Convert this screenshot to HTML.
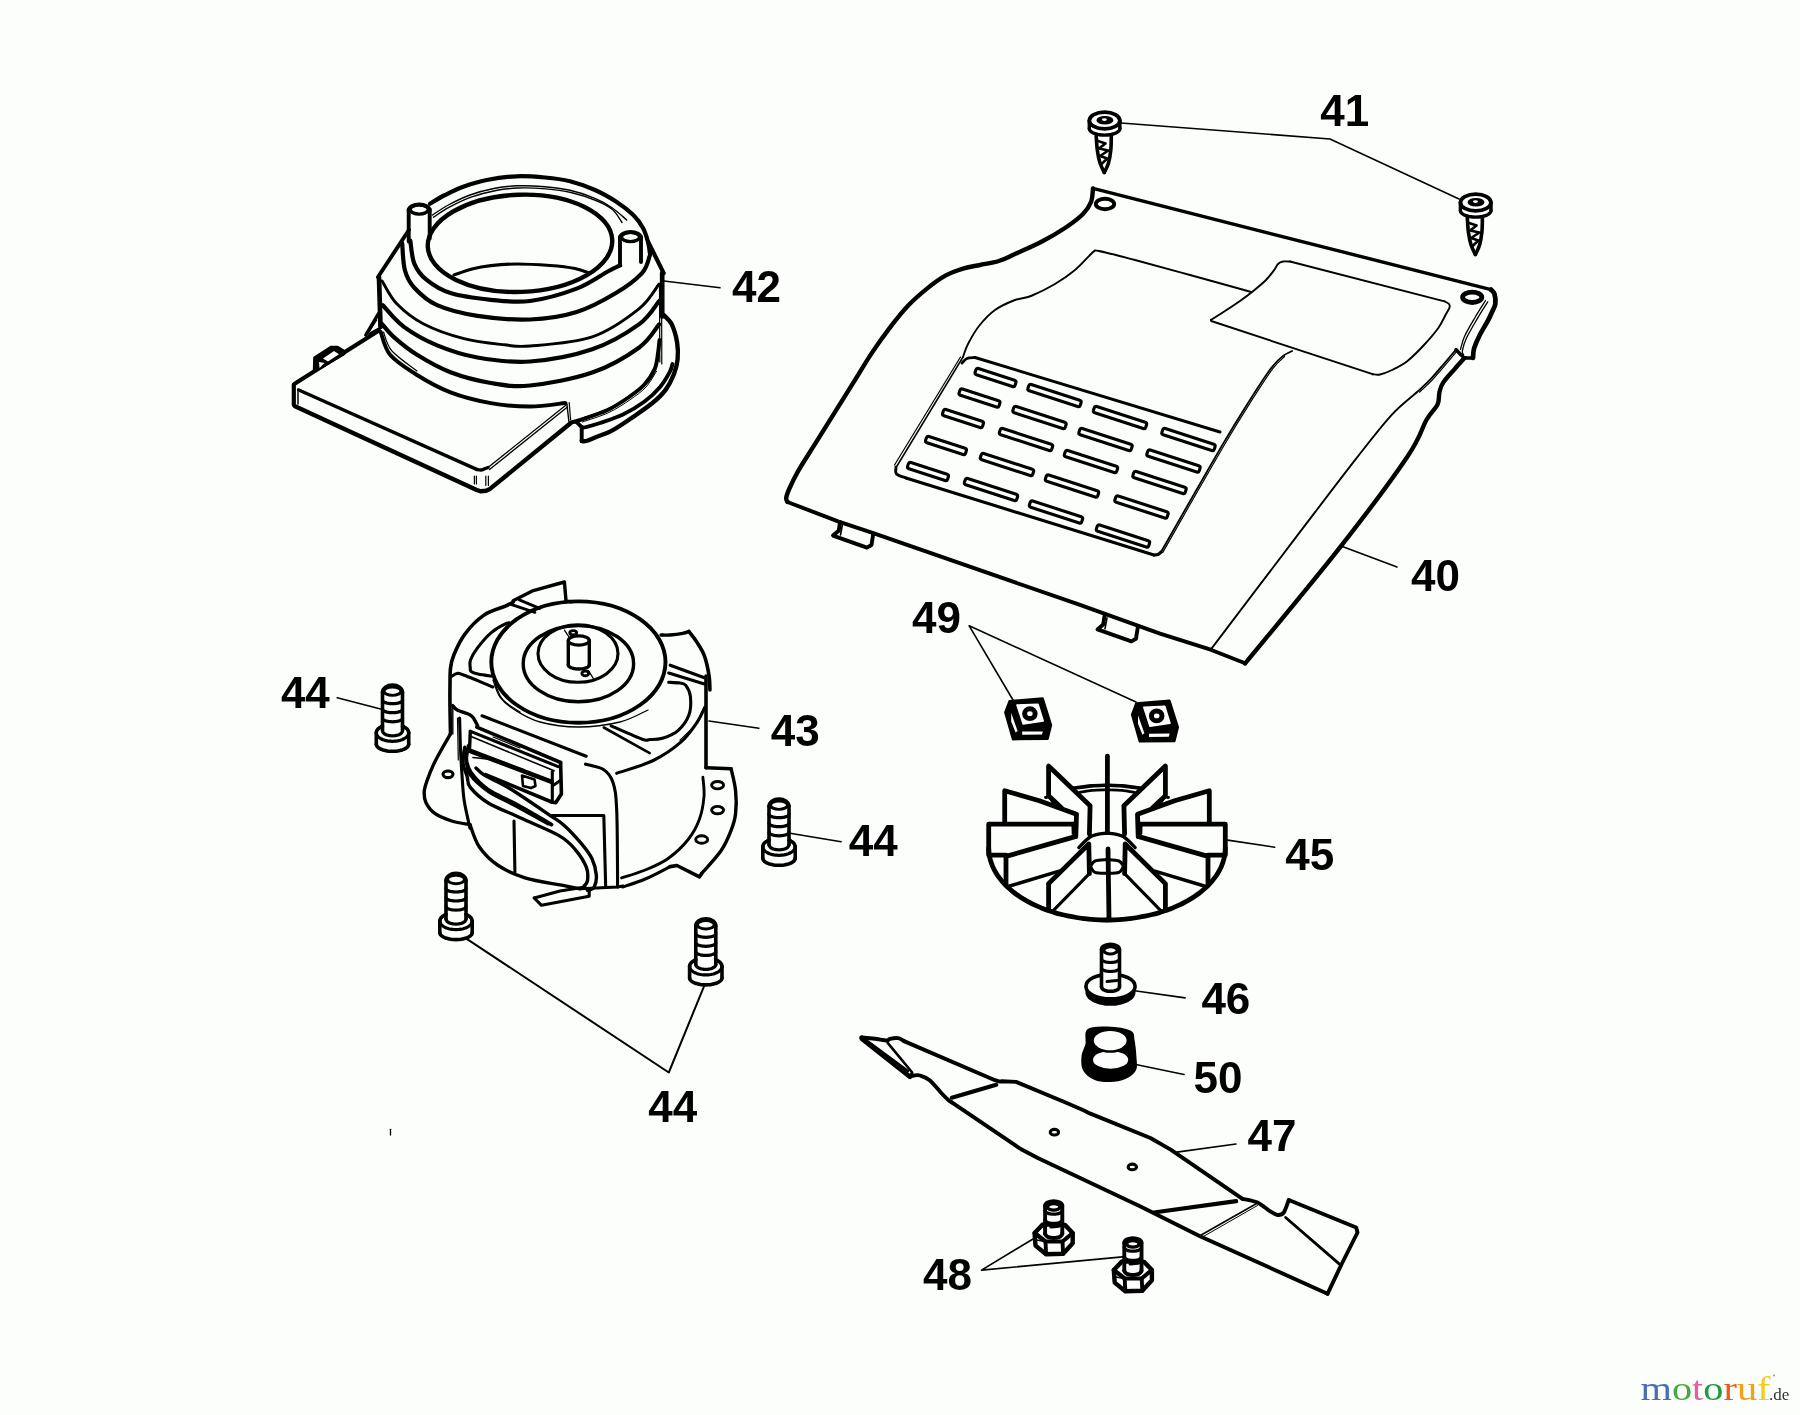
<!DOCTYPE html>
<html><head><meta charset="utf-8"><style>
html,body{margin:0;padding:0;background:#fcfefc;}
svg{display:block;}
.lb{font-family:"Liberation Sans",sans-serif;font-weight:bold;font-size:44px;fill:#000;}
</style></head><body>
<svg width="1800" height="1415" viewBox="0 0 1800 1415">
<rect width="1800" height="1415" fill="#fcfefc"/>
<g fill="none" stroke="#000" stroke-linecap="round" stroke-linejoin="round">
<path d="M1121,123 L1330,139 L1459,199" stroke-width="1.6"/>
<path d="M664,281 L720,287.8" stroke-width="1.6"/>
<path d="M1341,546 L1397,567" stroke-width="1.6"/>
<path d="M1013,700 L969.2,625.8 L1136,702" stroke-width="1.6"/>
<path d="M337.2,697.8 L380.6,708.9" stroke-width="1.6"/>
<path d="M709,721 L758.9,728.2" stroke-width="1.6"/>
<path d="M790,833.3 L841.1,841.7" stroke-width="1.6"/>
<path d="M1227.7,840.1 L1274.7,847.2" stroke-width="1.6"/>
<path d="M1134.6,990.7 L1185.1,997.9" stroke-width="1.6"/>
<path d="M1134.6,1064.3 L1184,1074.5" stroke-width="1.6"/>
<path d="M1175,1152.4 L1236,1144" stroke-width="1.6"/>
<path d="M467.1,939.1 L668.8,1072.5 L704.4,985.3" stroke-width="2"/>
<path d="M1034.3,1238.2 L981.5,1270.1 L1122.5,1256.9" stroke-width="1.6"/>
<g transform="translate(392.5 683.3) scale(1)">
<path d="M-10.0,9 A10.0 7.2 0 0 1 10.0 9" stroke-width="3.6"/>
<ellipse cx="0" cy="7.9" rx="8.4" ry="4.2" stroke-width="2.9"/>
<path d="M-10,9 L-10,47.5" stroke-width="3.6"/>
<path d="M10,9 L10,47.5" stroke-width="3.6"/>
<path d="M10,16.8 C10,16.9 9.9,17.3 9.8,17.5 C9.7,17.7 9.5,18 9.2,18.2 C9,18.4 8.7,18.6 8.3,18.8 C8,19 7.5,19.2 7.1,19.3 C6.6,19.5 6.1,19.7 5.6,19.8 C5,19.9 4.4,20 3.8,20.1 C3.2,20.2 2.6,20.3 2,20.3 C1.3,20.4 0.7,20.4 0,20.4 C-0.7,20.4 -1.3,20.4 -2,20.3 C-2.6,20.3 -3.2,20.2 -3.8,20.1 C-4.4,20 -5,19.9 -5.6,19.8 C-6.1,19.7 -6.6,19.5 -7.1,19.3 C-7.5,19.2 -8,19 -8.3,18.8 C-8.7,18.6 -9,18.4 -9.2,18.2 C-9.5,18 -9.7,17.7 -9.8,17.5 C-9.9,17.3 -10,16.9 -10,16.8" stroke-width="3.2"/>
<path d="M10,25.8 C10,25.9 9.9,26.3 9.8,26.5 C9.7,26.7 9.5,27 9.2,27.2 C9,27.4 8.7,27.6 8.3,27.8 C8,28 7.5,28.2 7.1,28.3 C6.6,28.5 6.1,28.7 5.6,28.8 C5,28.9 4.4,29 3.8,29.1 C3.2,29.2 2.6,29.3 2,29.3 C1.3,29.4 0.7,29.4 0,29.4 C-0.7,29.4 -1.3,29.4 -2,29.3 C-2.6,29.3 -3.2,29.2 -3.8,29.1 C-4.4,29 -5,28.9 -5.6,28.8 C-6.1,28.7 -6.6,28.5 -7.1,28.3 C-7.5,28.2 -8,28 -8.3,27.8 C-8.7,27.6 -9,27.4 -9.2,27.2 C-9.5,27 -9.7,26.7 -9.8,26.5 C-9.9,26.3 -10,25.9 -10,25.8" stroke-width="3.2"/>
<path d="M10,34.9 C10,35 9.9,35.4 9.8,35.6 C9.7,35.8 9.5,36.1 9.2,36.3 C9,36.5 8.7,36.7 8.3,36.9 C8,37.1 7.5,37.3 7.1,37.4 C6.6,37.6 6.1,37.8 5.6,37.9 C5,38 4.4,38.1 3.8,38.2 C3.2,38.3 2.6,38.4 2,38.4 C1.3,38.5 0.7,38.5 0,38.5 C-0.7,38.5 -1.3,38.5 -2,38.4 C-2.6,38.4 -3.2,38.3 -3.8,38.2 C-4.4,38.1 -5,38 -5.6,37.9 C-6.1,37.8 -6.6,37.6 -7.1,37.4 C-7.5,37.3 -8,37.1 -8.3,36.9 C-8.7,36.7 -9,36.5 -9.2,36.3 C-9.5,36.1 -9.7,35.8 -9.8,35.6 C-9.9,35.4 -10,35 -10,34.9" stroke-width="3.2"/>
<path d="M10,47.5 C10,47.7 9.9,48.2 9.8,48.5 C9.7,48.8 9.5,49.1 9.2,49.4 C9,49.7 8.7,50 8.3,50.3 C8,50.5 7.5,50.8 7.1,51 C6.6,51.3 6.1,51.5 5.6,51.7 C5,51.8 4.4,52 3.8,52.1 C3.2,52.2 2.6,52.3 2,52.4 C1.3,52.5 0.7,52.5 0,52.5 C-0.7,52.5 -1.3,52.5 -2,52.4 C-2.6,52.3 -3.2,52.2 -3.8,52.1 C-4.4,52 -5,51.8 -5.6,51.7 C-6.1,51.5 -6.6,51.3 -7.1,51 C-7.5,50.8 -8,50.5 -8.3,50.3 C-8.7,50 -9,49.7 -9.2,49.4 C-9.5,49.1 -9.7,48.8 -9.8,48.5 C-9.9,48.2 -10,47.7 -10,47.5" stroke-width="3.2"/>
<path d="M-16.2,49.5 C-16.2,49.4 -16.2,49 -16.1,48.7 C-16.1,48.5 -16,48.2 -15.9,48 C-15.8,47.7 -15.7,47.5 -15.6,47.2 C-15.5,47 -15.3,46.7 -15.1,46.5 C-15,46.2 -14.8,46 -14.6,45.8 C-14.3,45.5 -14.1,45.3 -13.9,45.1 C-13.6,44.9 -13.3,44.7 -13,44.5 C-12.7,44.2 -12.4,44 -12.1,43.9 C-11.8,43.7 -11.4,43.5 -11.1,43.3 C-10.7,43.1 -10.2,42.9 -10,42.8" stroke-width="3.6"/>
<path d="M10,42.8 C10.2,42.9 10.7,43.1 11.1,43.3 C11.4,43.5 11.8,43.7 12.1,43.9 C12.4,44 12.7,44.2 13,44.5 C13.3,44.7 13.6,44.9 13.9,45.1 C14.1,45.3 14.3,45.5 14.6,45.8 C14.8,46 15,46.2 15.1,46.5 C15.3,46.7 15.5,47 15.6,47.2 C15.7,47.5 15.8,47.7 15.9,48 C16,48.2 16.1,48.5 16.1,48.7 C16.2,49 16.2,49.4 16.2,49.5" stroke-width="3.6"/>
<path d="M16.2,49.5 C16.2,49.7 16.1,50.4 16,50.8 C15.9,51.3 15.7,51.7 15.4,52.1 C15.1,52.5 14.8,53 14.4,53.4 C14.1,53.8 13.6,54.1 13.1,54.5 C12.6,54.9 12.1,55.2 11.5,55.5 C10.9,55.8 10.2,56.1 9.5,56.4 C8.8,56.6 8.1,56.9 7.4,57.1 C6.6,57.3 5.8,57.4 5,57.6 C4.2,57.7 3.4,57.8 2.5,57.9 C1.7,58 0.8,58 0,58 C-0.8,58 -1.7,58 -2.5,57.9 C-3.4,57.8 -4.2,57.7 -5,57.6 C-5.8,57.4 -6.6,57.3 -7.4,57.1 C-8.1,56.9 -8.8,56.6 -9.5,56.4 C-10.2,56.1 -10.9,55.8 -11.5,55.5 C-12.1,55.2 -12.6,54.9 -13.1,54.5 C-13.6,54.1 -14.1,53.8 -14.4,53.4 C-14.8,53 -15.1,52.5 -15.4,52.1 C-15.7,51.7 -15.9,51.3 -16,50.8 C-16.1,50.4 -16.2,49.7 -16.2,49.5" stroke-width="3.2"/>
<path d="M-16.2,49.5 L-16.2,61" stroke-width="3.6"/>
<path d="M16.2,49.5 L16.2,61" stroke-width="3.6"/>
<path d="M16.2,61 C16.2,61.2 16.1,61.7 16,62.1 C15.9,62.5 15.7,62.8 15.4,63.2 C15.1,63.5 14.8,63.9 14.4,64.2 C14.1,64.5 13.6,64.8 13.1,65.1 C12.6,65.4 12.1,65.7 11.5,65.9 C10.9,66.2 10.2,66.4 9.5,66.7 C8.8,66.9 8.1,67.1 7.4,67.2 C6.6,67.4 5.8,67.5 5,67.7 C4.2,67.8 3.4,67.9 2.5,67.9 C1.7,68 0.8,68 0,68 C-0.8,68 -1.7,68 -2.5,67.9 C-3.4,67.9 -4.2,67.8 -5,67.7 C-5.8,67.5 -6.6,67.4 -7.4,67.2 C-8.1,67.1 -8.8,66.9 -9.5,66.7 C-10.2,66.4 -10.9,66.2 -11.5,65.9 C-12.1,65.7 -12.6,65.4 -13.1,65.1 C-13.6,64.8 -14.1,64.5 -14.4,64.2 C-14.8,63.9 -15.1,63.5 -15.4,63.2 C-15.7,62.8 -15.9,62.5 -16,62.1 C-16.1,61.7 -16.2,61.2 -16.2,61" stroke-width="3.6"/>
</g>
<g transform="translate(779 797.3) scale(1)">
<path d="M-10.0,9 A10.0 7.2 0 0 1 10.0 9" stroke-width="3.6"/>
<ellipse cx="0" cy="7.9" rx="8.4" ry="4.2" stroke-width="2.9"/>
<path d="M-10,9 L-10,47.5" stroke-width="3.6"/>
<path d="M10,9 L10,47.5" stroke-width="3.6"/>
<path d="M10,16.8 C10,16.9 9.9,17.3 9.8,17.5 C9.7,17.7 9.5,18 9.2,18.2 C9,18.4 8.7,18.6 8.3,18.8 C8,19 7.5,19.2 7.1,19.3 C6.6,19.5 6.1,19.7 5.6,19.8 C5,19.9 4.4,20 3.8,20.1 C3.2,20.2 2.6,20.3 2,20.3 C1.3,20.4 0.7,20.4 0,20.4 C-0.7,20.4 -1.3,20.4 -2,20.3 C-2.6,20.3 -3.2,20.2 -3.8,20.1 C-4.4,20 -5,19.9 -5.6,19.8 C-6.1,19.7 -6.6,19.5 -7.1,19.3 C-7.5,19.2 -8,19 -8.3,18.8 C-8.7,18.6 -9,18.4 -9.2,18.2 C-9.5,18 -9.7,17.7 -9.8,17.5 C-9.9,17.3 -10,16.9 -10,16.8" stroke-width="3.2"/>
<path d="M10,25.8 C10,25.9 9.9,26.3 9.8,26.5 C9.7,26.7 9.5,27 9.2,27.2 C9,27.4 8.7,27.6 8.3,27.8 C8,28 7.5,28.2 7.1,28.3 C6.6,28.5 6.1,28.7 5.6,28.8 C5,28.9 4.4,29 3.8,29.1 C3.2,29.2 2.6,29.3 2,29.3 C1.3,29.4 0.7,29.4 0,29.4 C-0.7,29.4 -1.3,29.4 -2,29.3 C-2.6,29.3 -3.2,29.2 -3.8,29.1 C-4.4,29 -5,28.9 -5.6,28.8 C-6.1,28.7 -6.6,28.5 -7.1,28.3 C-7.5,28.2 -8,28 -8.3,27.8 C-8.7,27.6 -9,27.4 -9.2,27.2 C-9.5,27 -9.7,26.7 -9.8,26.5 C-9.9,26.3 -10,25.9 -10,25.8" stroke-width="3.2"/>
<path d="M10,34.9 C10,35 9.9,35.4 9.8,35.6 C9.7,35.8 9.5,36.1 9.2,36.3 C9,36.5 8.7,36.7 8.3,36.9 C8,37.1 7.5,37.3 7.1,37.4 C6.6,37.6 6.1,37.8 5.6,37.9 C5,38 4.4,38.1 3.8,38.2 C3.2,38.3 2.6,38.4 2,38.4 C1.3,38.5 0.7,38.5 0,38.5 C-0.7,38.5 -1.3,38.5 -2,38.4 C-2.6,38.4 -3.2,38.3 -3.8,38.2 C-4.4,38.1 -5,38 -5.6,37.9 C-6.1,37.8 -6.6,37.6 -7.1,37.4 C-7.5,37.3 -8,37.1 -8.3,36.9 C-8.7,36.7 -9,36.5 -9.2,36.3 C-9.5,36.1 -9.7,35.8 -9.8,35.6 C-9.9,35.4 -10,35 -10,34.9" stroke-width="3.2"/>
<path d="M10,47.5 C10,47.7 9.9,48.2 9.8,48.5 C9.7,48.8 9.5,49.1 9.2,49.4 C9,49.7 8.7,50 8.3,50.3 C8,50.5 7.5,50.8 7.1,51 C6.6,51.3 6.1,51.5 5.6,51.7 C5,51.8 4.4,52 3.8,52.1 C3.2,52.2 2.6,52.3 2,52.4 C1.3,52.5 0.7,52.5 0,52.5 C-0.7,52.5 -1.3,52.5 -2,52.4 C-2.6,52.3 -3.2,52.2 -3.8,52.1 C-4.4,52 -5,51.8 -5.6,51.7 C-6.1,51.5 -6.6,51.3 -7.1,51 C-7.5,50.8 -8,50.5 -8.3,50.3 C-8.7,50 -9,49.7 -9.2,49.4 C-9.5,49.1 -9.7,48.8 -9.8,48.5 C-9.9,48.2 -10,47.7 -10,47.5" stroke-width="3.2"/>
<path d="M-16.2,49.5 C-16.2,49.4 -16.2,49 -16.1,48.7 C-16.1,48.5 -16,48.2 -15.9,48 C-15.8,47.7 -15.7,47.5 -15.6,47.2 C-15.5,47 -15.3,46.7 -15.1,46.5 C-15,46.2 -14.8,46 -14.6,45.8 C-14.3,45.5 -14.1,45.3 -13.9,45.1 C-13.6,44.9 -13.3,44.7 -13,44.5 C-12.7,44.2 -12.4,44 -12.1,43.9 C-11.8,43.7 -11.4,43.5 -11.1,43.3 C-10.7,43.1 -10.2,42.9 -10,42.8" stroke-width="3.6"/>
<path d="M10,42.8 C10.2,42.9 10.7,43.1 11.1,43.3 C11.4,43.5 11.8,43.7 12.1,43.9 C12.4,44 12.7,44.2 13,44.5 C13.3,44.7 13.6,44.9 13.9,45.1 C14.1,45.3 14.3,45.5 14.6,45.8 C14.8,46 15,46.2 15.1,46.5 C15.3,46.7 15.5,47 15.6,47.2 C15.7,47.5 15.8,47.7 15.9,48 C16,48.2 16.1,48.5 16.1,48.7 C16.2,49 16.2,49.4 16.2,49.5" stroke-width="3.6"/>
<path d="M16.2,49.5 C16.2,49.7 16.1,50.4 16,50.8 C15.9,51.3 15.7,51.7 15.4,52.1 C15.1,52.5 14.8,53 14.4,53.4 C14.1,53.8 13.6,54.1 13.1,54.5 C12.6,54.9 12.1,55.2 11.5,55.5 C10.9,55.8 10.2,56.1 9.5,56.4 C8.8,56.6 8.1,56.9 7.4,57.1 C6.6,57.3 5.8,57.4 5,57.6 C4.2,57.7 3.4,57.8 2.5,57.9 C1.7,58 0.8,58 0,58 C-0.8,58 -1.7,58 -2.5,57.9 C-3.4,57.8 -4.2,57.7 -5,57.6 C-5.8,57.4 -6.6,57.3 -7.4,57.1 C-8.1,56.9 -8.8,56.6 -9.5,56.4 C-10.2,56.1 -10.9,55.8 -11.5,55.5 C-12.1,55.2 -12.6,54.9 -13.1,54.5 C-13.6,54.1 -14.1,53.8 -14.4,53.4 C-14.8,53 -15.1,52.5 -15.4,52.1 C-15.7,51.7 -15.9,51.3 -16,50.8 C-16.1,50.4 -16.2,49.7 -16.2,49.5" stroke-width="3.2"/>
<path d="M-16.2,49.5 L-16.2,61" stroke-width="3.6"/>
<path d="M16.2,49.5 L16.2,61" stroke-width="3.6"/>
<path d="M16.2,61 C16.2,61.2 16.1,61.7 16,62.1 C15.9,62.5 15.7,62.8 15.4,63.2 C15.1,63.5 14.8,63.9 14.4,64.2 C14.1,64.5 13.6,64.8 13.1,65.1 C12.6,65.4 12.1,65.7 11.5,65.9 C10.9,66.2 10.2,66.4 9.5,66.7 C8.8,66.9 8.1,67.1 7.4,67.2 C6.6,67.4 5.8,67.5 5,67.7 C4.2,67.8 3.4,67.9 2.5,67.9 C1.7,68 0.8,68 0,68 C-0.8,68 -1.7,68 -2.5,67.9 C-3.4,67.9 -4.2,67.8 -5,67.7 C-5.8,67.5 -6.6,67.4 -7.4,67.2 C-8.1,67.1 -8.8,66.9 -9.5,66.7 C-10.2,66.4 -10.9,66.2 -11.5,65.9 C-12.1,65.7 -12.6,65.4 -13.1,65.1 C-13.6,64.8 -14.1,64.5 -14.4,64.2 C-14.8,63.9 -15.1,63.5 -15.4,63.2 C-15.7,62.8 -15.9,62.5 -16,62.1 C-16.1,61.7 -16.2,61.2 -16.2,61" stroke-width="3.6"/>
</g>
<g transform="translate(456 871.6) scale(1)">
<path d="M-10.0,9 A10.0 7.2 0 0 1 10.0 9" stroke-width="3.6"/>
<ellipse cx="0" cy="7.9" rx="8.4" ry="4.2" stroke-width="2.9"/>
<path d="M-10,9 L-10,47.5" stroke-width="3.6"/>
<path d="M10,9 L10,47.5" stroke-width="3.6"/>
<path d="M10,16.8 C10,16.9 9.9,17.3 9.8,17.5 C9.7,17.7 9.5,18 9.2,18.2 C9,18.4 8.7,18.6 8.3,18.8 C8,19 7.5,19.2 7.1,19.3 C6.6,19.5 6.1,19.7 5.6,19.8 C5,19.9 4.4,20 3.8,20.1 C3.2,20.2 2.6,20.3 2,20.3 C1.3,20.4 0.7,20.4 0,20.4 C-0.7,20.4 -1.3,20.4 -2,20.3 C-2.6,20.3 -3.2,20.2 -3.8,20.1 C-4.4,20 -5,19.9 -5.6,19.8 C-6.1,19.7 -6.6,19.5 -7.1,19.3 C-7.5,19.2 -8,19 -8.3,18.8 C-8.7,18.6 -9,18.4 -9.2,18.2 C-9.5,18 -9.7,17.7 -9.8,17.5 C-9.9,17.3 -10,16.9 -10,16.8" stroke-width="3.2"/>
<path d="M10,25.8 C10,25.9 9.9,26.3 9.8,26.5 C9.7,26.7 9.5,27 9.2,27.2 C9,27.4 8.7,27.6 8.3,27.8 C8,28 7.5,28.2 7.1,28.3 C6.6,28.5 6.1,28.7 5.6,28.8 C5,28.9 4.4,29 3.8,29.1 C3.2,29.2 2.6,29.3 2,29.3 C1.3,29.4 0.7,29.4 0,29.4 C-0.7,29.4 -1.3,29.4 -2,29.3 C-2.6,29.3 -3.2,29.2 -3.8,29.1 C-4.4,29 -5,28.9 -5.6,28.8 C-6.1,28.7 -6.6,28.5 -7.1,28.3 C-7.5,28.2 -8,28 -8.3,27.8 C-8.7,27.6 -9,27.4 -9.2,27.2 C-9.5,27 -9.7,26.7 -9.8,26.5 C-9.9,26.3 -10,25.9 -10,25.8" stroke-width="3.2"/>
<path d="M10,34.9 C10,35 9.9,35.4 9.8,35.6 C9.7,35.8 9.5,36.1 9.2,36.3 C9,36.5 8.7,36.7 8.3,36.9 C8,37.1 7.5,37.3 7.1,37.4 C6.6,37.6 6.1,37.8 5.6,37.9 C5,38 4.4,38.1 3.8,38.2 C3.2,38.3 2.6,38.4 2,38.4 C1.3,38.5 0.7,38.5 0,38.5 C-0.7,38.5 -1.3,38.5 -2,38.4 C-2.6,38.4 -3.2,38.3 -3.8,38.2 C-4.4,38.1 -5,38 -5.6,37.9 C-6.1,37.8 -6.6,37.6 -7.1,37.4 C-7.5,37.3 -8,37.1 -8.3,36.9 C-8.7,36.7 -9,36.5 -9.2,36.3 C-9.5,36.1 -9.7,35.8 -9.8,35.6 C-9.9,35.4 -10,35 -10,34.9" stroke-width="3.2"/>
<path d="M10,47.5 C10,47.7 9.9,48.2 9.8,48.5 C9.7,48.8 9.5,49.1 9.2,49.4 C9,49.7 8.7,50 8.3,50.3 C8,50.5 7.5,50.8 7.1,51 C6.6,51.3 6.1,51.5 5.6,51.7 C5,51.8 4.4,52 3.8,52.1 C3.2,52.2 2.6,52.3 2,52.4 C1.3,52.5 0.7,52.5 0,52.5 C-0.7,52.5 -1.3,52.5 -2,52.4 C-2.6,52.3 -3.2,52.2 -3.8,52.1 C-4.4,52 -5,51.8 -5.6,51.7 C-6.1,51.5 -6.6,51.3 -7.1,51 C-7.5,50.8 -8,50.5 -8.3,50.3 C-8.7,50 -9,49.7 -9.2,49.4 C-9.5,49.1 -9.7,48.8 -9.8,48.5 C-9.9,48.2 -10,47.7 -10,47.5" stroke-width="3.2"/>
<path d="M-16.2,49.5 C-16.2,49.4 -16.2,49 -16.1,48.7 C-16.1,48.5 -16,48.2 -15.9,48 C-15.8,47.7 -15.7,47.5 -15.6,47.2 C-15.5,47 -15.3,46.7 -15.1,46.5 C-15,46.2 -14.8,46 -14.6,45.8 C-14.3,45.5 -14.1,45.3 -13.9,45.1 C-13.6,44.9 -13.3,44.7 -13,44.5 C-12.7,44.2 -12.4,44 -12.1,43.9 C-11.8,43.7 -11.4,43.5 -11.1,43.3 C-10.7,43.1 -10.2,42.9 -10,42.8" stroke-width="3.6"/>
<path d="M10,42.8 C10.2,42.9 10.7,43.1 11.1,43.3 C11.4,43.5 11.8,43.7 12.1,43.9 C12.4,44 12.7,44.2 13,44.5 C13.3,44.7 13.6,44.9 13.9,45.1 C14.1,45.3 14.3,45.5 14.6,45.8 C14.8,46 15,46.2 15.1,46.5 C15.3,46.7 15.5,47 15.6,47.2 C15.7,47.5 15.8,47.7 15.9,48 C16,48.2 16.1,48.5 16.1,48.7 C16.2,49 16.2,49.4 16.2,49.5" stroke-width="3.6"/>
<path d="M16.2,49.5 C16.2,49.7 16.1,50.4 16,50.8 C15.9,51.3 15.7,51.7 15.4,52.1 C15.1,52.5 14.8,53 14.4,53.4 C14.1,53.8 13.6,54.1 13.1,54.5 C12.6,54.9 12.1,55.2 11.5,55.5 C10.9,55.8 10.2,56.1 9.5,56.4 C8.8,56.6 8.1,56.9 7.4,57.1 C6.6,57.3 5.8,57.4 5,57.6 C4.2,57.7 3.4,57.8 2.5,57.9 C1.7,58 0.8,58 0,58 C-0.8,58 -1.7,58 -2.5,57.9 C-3.4,57.8 -4.2,57.7 -5,57.6 C-5.8,57.4 -6.6,57.3 -7.4,57.1 C-8.1,56.9 -8.8,56.6 -9.5,56.4 C-10.2,56.1 -10.9,55.8 -11.5,55.5 C-12.1,55.2 -12.6,54.9 -13.1,54.5 C-13.6,54.1 -14.1,53.8 -14.4,53.4 C-14.8,53 -15.1,52.5 -15.4,52.1 C-15.7,51.7 -15.9,51.3 -16,50.8 C-16.1,50.4 -16.2,49.7 -16.2,49.5" stroke-width="3.2"/>
<path d="M-16.2,49.5 L-16.2,61" stroke-width="3.6"/>
<path d="M16.2,49.5 L16.2,61" stroke-width="3.6"/>
<path d="M16.2,61 C16.2,61.2 16.1,61.7 16,62.1 C15.9,62.5 15.7,62.8 15.4,63.2 C15.1,63.5 14.8,63.9 14.4,64.2 C14.1,64.5 13.6,64.8 13.1,65.1 C12.6,65.4 12.1,65.7 11.5,65.9 C10.9,66.2 10.2,66.4 9.5,66.7 C8.8,66.9 8.1,67.1 7.4,67.2 C6.6,67.4 5.8,67.5 5,67.7 C4.2,67.8 3.4,67.9 2.5,67.9 C1.7,68 0.8,68 0,68 C-0.8,68 -1.7,68 -2.5,67.9 C-3.4,67.9 -4.2,67.8 -5,67.7 C-5.8,67.5 -6.6,67.4 -7.4,67.2 C-8.1,67.1 -8.8,66.9 -9.5,66.7 C-10.2,66.4 -10.9,66.2 -11.5,65.9 C-12.1,65.7 -12.6,65.4 -13.1,65.1 C-13.6,64.8 -14.1,64.5 -14.4,64.2 C-14.8,63.9 -15.1,63.5 -15.4,63.2 C-15.7,62.8 -15.9,62.5 -16,62.1 C-16.1,61.7 -16.2,61.2 -16.2,61" stroke-width="3.6"/>
</g>
<g transform="translate(705.8 916.9) scale(1)">
<path d="M-10.0,9 A10.0 7.2 0 0 1 10.0 9" stroke-width="3.6"/>
<ellipse cx="0" cy="7.9" rx="8.4" ry="4.2" stroke-width="2.9"/>
<path d="M-10,9 L-10,47.5" stroke-width="3.6"/>
<path d="M10,9 L10,47.5" stroke-width="3.6"/>
<path d="M10,16.8 C10,16.9 9.9,17.3 9.8,17.5 C9.7,17.7 9.5,18 9.2,18.2 C9,18.4 8.7,18.6 8.3,18.8 C8,19 7.5,19.2 7.1,19.3 C6.6,19.5 6.1,19.7 5.6,19.8 C5,19.9 4.4,20 3.8,20.1 C3.2,20.2 2.6,20.3 2,20.3 C1.3,20.4 0.7,20.4 0,20.4 C-0.7,20.4 -1.3,20.4 -2,20.3 C-2.6,20.3 -3.2,20.2 -3.8,20.1 C-4.4,20 -5,19.9 -5.6,19.8 C-6.1,19.7 -6.6,19.5 -7.1,19.3 C-7.5,19.2 -8,19 -8.3,18.8 C-8.7,18.6 -9,18.4 -9.2,18.2 C-9.5,18 -9.7,17.7 -9.8,17.5 C-9.9,17.3 -10,16.9 -10,16.8" stroke-width="3.2"/>
<path d="M10,25.8 C10,25.9 9.9,26.3 9.8,26.5 C9.7,26.7 9.5,27 9.2,27.2 C9,27.4 8.7,27.6 8.3,27.8 C8,28 7.5,28.2 7.1,28.3 C6.6,28.5 6.1,28.7 5.6,28.8 C5,28.9 4.4,29 3.8,29.1 C3.2,29.2 2.6,29.3 2,29.3 C1.3,29.4 0.7,29.4 0,29.4 C-0.7,29.4 -1.3,29.4 -2,29.3 C-2.6,29.3 -3.2,29.2 -3.8,29.1 C-4.4,29 -5,28.9 -5.6,28.8 C-6.1,28.7 -6.6,28.5 -7.1,28.3 C-7.5,28.2 -8,28 -8.3,27.8 C-8.7,27.6 -9,27.4 -9.2,27.2 C-9.5,27 -9.7,26.7 -9.8,26.5 C-9.9,26.3 -10,25.9 -10,25.8" stroke-width="3.2"/>
<path d="M10,34.9 C10,35 9.9,35.4 9.8,35.6 C9.7,35.8 9.5,36.1 9.2,36.3 C9,36.5 8.7,36.7 8.3,36.9 C8,37.1 7.5,37.3 7.1,37.4 C6.6,37.6 6.1,37.8 5.6,37.9 C5,38 4.4,38.1 3.8,38.2 C3.2,38.3 2.6,38.4 2,38.4 C1.3,38.5 0.7,38.5 0,38.5 C-0.7,38.5 -1.3,38.5 -2,38.4 C-2.6,38.4 -3.2,38.3 -3.8,38.2 C-4.4,38.1 -5,38 -5.6,37.9 C-6.1,37.8 -6.6,37.6 -7.1,37.4 C-7.5,37.3 -8,37.1 -8.3,36.9 C-8.7,36.7 -9,36.5 -9.2,36.3 C-9.5,36.1 -9.7,35.8 -9.8,35.6 C-9.9,35.4 -10,35 -10,34.9" stroke-width="3.2"/>
<path d="M10,47.5 C10,47.7 9.9,48.2 9.8,48.5 C9.7,48.8 9.5,49.1 9.2,49.4 C9,49.7 8.7,50 8.3,50.3 C8,50.5 7.5,50.8 7.1,51 C6.6,51.3 6.1,51.5 5.6,51.7 C5,51.8 4.4,52 3.8,52.1 C3.2,52.2 2.6,52.3 2,52.4 C1.3,52.5 0.7,52.5 0,52.5 C-0.7,52.5 -1.3,52.5 -2,52.4 C-2.6,52.3 -3.2,52.2 -3.8,52.1 C-4.4,52 -5,51.8 -5.6,51.7 C-6.1,51.5 -6.6,51.3 -7.1,51 C-7.5,50.8 -8,50.5 -8.3,50.3 C-8.7,50 -9,49.7 -9.2,49.4 C-9.5,49.1 -9.7,48.8 -9.8,48.5 C-9.9,48.2 -10,47.7 -10,47.5" stroke-width="3.2"/>
<path d="M-16.2,49.5 C-16.2,49.4 -16.2,49 -16.1,48.7 C-16.1,48.5 -16,48.2 -15.9,48 C-15.8,47.7 -15.7,47.5 -15.6,47.2 C-15.5,47 -15.3,46.7 -15.1,46.5 C-15,46.2 -14.8,46 -14.6,45.8 C-14.3,45.5 -14.1,45.3 -13.9,45.1 C-13.6,44.9 -13.3,44.7 -13,44.5 C-12.7,44.2 -12.4,44 -12.1,43.9 C-11.8,43.7 -11.4,43.5 -11.1,43.3 C-10.7,43.1 -10.2,42.9 -10,42.8" stroke-width="3.6"/>
<path d="M10,42.8 C10.2,42.9 10.7,43.1 11.1,43.3 C11.4,43.5 11.8,43.7 12.1,43.9 C12.4,44 12.7,44.2 13,44.5 C13.3,44.7 13.6,44.9 13.9,45.1 C14.1,45.3 14.3,45.5 14.6,45.8 C14.8,46 15,46.2 15.1,46.5 C15.3,46.7 15.5,47 15.6,47.2 C15.7,47.5 15.8,47.7 15.9,48 C16,48.2 16.1,48.5 16.1,48.7 C16.2,49 16.2,49.4 16.2,49.5" stroke-width="3.6"/>
<path d="M16.2,49.5 C16.2,49.7 16.1,50.4 16,50.8 C15.9,51.3 15.7,51.7 15.4,52.1 C15.1,52.5 14.8,53 14.4,53.4 C14.1,53.8 13.6,54.1 13.1,54.5 C12.6,54.9 12.1,55.2 11.5,55.5 C10.9,55.8 10.2,56.1 9.5,56.4 C8.8,56.6 8.1,56.9 7.4,57.1 C6.6,57.3 5.8,57.4 5,57.6 C4.2,57.7 3.4,57.8 2.5,57.9 C1.7,58 0.8,58 0,58 C-0.8,58 -1.7,58 -2.5,57.9 C-3.4,57.8 -4.2,57.7 -5,57.6 C-5.8,57.4 -6.6,57.3 -7.4,57.1 C-8.1,56.9 -8.8,56.6 -9.5,56.4 C-10.2,56.1 -10.9,55.8 -11.5,55.5 C-12.1,55.2 -12.6,54.9 -13.1,54.5 C-13.6,54.1 -14.1,53.8 -14.4,53.4 C-14.8,53 -15.1,52.5 -15.4,52.1 C-15.7,51.7 -15.9,51.3 -16,50.8 C-16.1,50.4 -16.2,49.7 -16.2,49.5" stroke-width="3.2"/>
<path d="M-16.2,49.5 L-16.2,61" stroke-width="3.6"/>
<path d="M16.2,49.5 L16.2,61" stroke-width="3.6"/>
<path d="M16.2,61 C16.2,61.2 16.1,61.7 16,62.1 C15.9,62.5 15.7,62.8 15.4,63.2 C15.1,63.5 14.8,63.9 14.4,64.2 C14.1,64.5 13.6,64.8 13.1,65.1 C12.6,65.4 12.1,65.7 11.5,65.9 C10.9,66.2 10.2,66.4 9.5,66.7 C8.8,66.9 8.1,67.1 7.4,67.2 C6.6,67.4 5.8,67.5 5,67.7 C4.2,67.8 3.4,67.9 2.5,67.9 C1.7,68 0.8,68 0,68 C-0.8,68 -1.7,68 -2.5,67.9 C-3.4,67.9 -4.2,67.8 -5,67.7 C-5.8,67.5 -6.6,67.4 -7.4,67.2 C-8.1,67.1 -8.8,66.9 -9.5,66.7 C-10.2,66.4 -10.9,66.2 -11.5,65.9 C-12.1,65.7 -12.6,65.4 -13.1,65.1 C-13.6,64.8 -14.1,64.5 -14.4,64.2 C-14.8,63.9 -15.1,63.5 -15.4,63.2 C-15.7,62.8 -15.9,62.5 -16,62.1 C-16.1,61.7 -16.2,61.2 -16.2,61" stroke-width="3.6"/>
</g>
<path d="M390.5,1129.3 L390.5,1135" stroke-width="1.3"/>
<path d="M430,203.7 C432.5,202.2 439.4,197.8 445,195 C450.6,192.2 456.4,189.2 463.3,186.7 C470.2,184.2 477.8,181.7 486.7,180 C495.6,178.3 507,176.7 516.7,176.3 C526.4,175.9 536.1,176.7 545,177.5 C553.9,178.3 561.7,179.2 570,181.3 C578.3,183.4 587.2,186.6 595,190 C602.8,193.4 610.3,197.8 616.7,202 C623.1,206.2 628.9,210.7 633.3,215 C637.7,219.3 640.5,223.5 643,228 C645.5,232.5 646.8,237.7 648,242 C649.2,246.3 649.7,252 650,254" stroke-width="4.2"/>
<path d="M432.5,215 C435.1,213.3 442.1,208.3 448.3,205 C454.6,201.7 462.2,197.8 470,195 C477.8,192.2 487.2,189.8 495,188.3 C502.8,186.8 508.4,186.1 516.7,185.8 C525,185.5 536.1,185.9 545,186.7 C553.9,187.4 561.7,188.4 570,190.3 C578.3,192.2 588,195.4 595,198.3 C602,201.2 606.4,203.9 611.7,207.5 C617,211.1 624.2,217.9 626.7,220" stroke-width="1.4"/>
<path d="M433.5,217.2 C436.1,215.5 443.1,210.5 449.3,207.2 C455.6,203.9 463.2,200 471,197.2 C478.8,194.4 488.2,192 496,190.5 C503.8,189 509.4,188.3 517.7,188 C526,187.7 537.1,188.1 546,188.9 C554.9,189.6 562.7,190.6 571,192.5 C579.3,194.4 589,197.6 596,200.5 C603,203.4 608.4,206 612.7,209.7 C617,213.4 620.5,220.4 622,222.5" stroke-width="1.4"/>
<ellipse cx="520" cy="243.3" rx="92.3" ry="48.6" stroke-width="4.4" transform="rotate(-2 520 243.3)"/>
<path d="M454,275 C457,274 465.9,270.6 472,269 C478.1,267.4 483.4,266.4 490.8,265.6 C498.2,264.8 506.8,264 516.7,264 C526.6,264 540.3,264.8 550,265.5 C559.7,266.2 568.5,267.2 575,268.5 C581.5,269.8 586.7,272.2 589,273" stroke-width="3.1"/>
<ellipse cx="419.2" cy="209.5" rx="9" ry="4.6" stroke-width="3.4"/>
<path d="M408.7,209.5 L408.7,241.5" stroke-width="3.9"/>
<path d="M429.7,209.5 L429.7,238.5" stroke-width="3.9"/>
<path d="M408.7,210.5 A10.5 6 0 0 1 429.7 210.5" stroke-width="3.9"/>
<ellipse cx="630.5" cy="237" rx="9" ry="4.6" stroke-width="3.4"/>
<path d="M620,237 L620,265" stroke-width="3.9"/>
<path d="M641,237 L641,262" stroke-width="3.9"/>
<path d="M620,238 A10.5 6 0 0 1 641 238" stroke-width="3.9"/>
<path d="M410.3,240.7 C411,244.5 411.6,257.1 414.3,263.6 C417,270.1 420.4,274.8 426.4,279.7 C432.4,284.6 439.8,289.8 450.5,293.1 C461.2,296.5 477.6,298.5 490.8,299.8 C504.1,301.1 515.7,302.9 530,301 C544.3,299.1 563.7,293.5 576.7,288.6 C589.7,283.7 600.5,275.4 607.8,271.5 C615,267.6 618.1,266.3 620.2,265.3" stroke-width="4.2"/>
<path d="M402.2,243.4 C402.6,247.9 402.9,262.9 404.9,270.3 C406.9,277.7 408.9,281.9 414.3,287.7 C419.7,293.5 426.6,300.5 437.1,305.2 C447.6,309.9 461.9,313.5 477.4,315.9 C492.9,318.3 513.5,320.1 530,319.5 C546.5,318.9 562.5,316.4 576.7,312 C591,307.6 604.6,299.8 615.5,293.3 C626.4,286.8 636.3,279.3 642,273.1 C647.7,266.9 648.4,258.9 649.7,256" stroke-width="4.2"/>
<path d="M408.9,230 L378,277" stroke-width="3.9"/>
<path d="M401,243 L383,270" stroke-width="1.2"/>
<path d="M648.2,242 L663.7,273.1" stroke-width="4.2"/>
<path d="M379,277 L380.5,327" stroke-width="4.7"/>
<path d="M662.2,273 L662.2,316.6" stroke-width="4.7"/>
<path d="M659.5,284 L659.8,362" stroke-width="1.2"/>
<path d="M661.6,290 L661.8,364" stroke-width="1.2"/>
<path d="M382.1,281 C384.6,284.8 389.9,296.6 396.8,303.8 C403.7,311 412.5,318.2 423.7,324 C434.9,329.8 450.6,335.2 464,338.7 C477.4,342.2 493.2,343.6 504.2,344.8 C515.2,346 515.3,347.3 530,346 C544.7,344.7 574.1,343.1 592.2,336.9 C610.4,330.7 627.8,317.7 638.9,308.9 C650,300.1 655.7,288.1 659.1,284" stroke-width="2.9"/>
<path d="M382.8,305.2 C386.3,308.8 394.6,319.9 403.6,326.6 C412.7,333.3 424.8,340.2 437.1,345.4 C449.4,350.5 461.9,354.8 477.4,357.5 C492.9,360.2 510.9,362.9 530,361.5 C549.1,360.1 574.1,355.5 592.2,349.3 C610.4,343.1 627.8,332.4 638.9,324.4 C650,316.4 655.7,305 659.1,301.1" stroke-width="4.2"/>
<path d="M382,324 C384,326.2 388.4,332.3 394.2,337.4 C400,342.5 407.6,349 417,354.8 C426.4,360.6 438.2,367.6 450.5,372.3 C462.8,377 477.6,380.8 490.8,383 C504.1,385.2 513.1,387.2 530,385.5 C546.9,383.8 574.1,378.9 592.2,372.6 C610.4,366.3 627.8,355.7 638.9,347.7 C650,339.7 655.7,328.3 659.1,324.4" stroke-width="4.2"/>
<path d="M380.7,332 C382.3,335.8 384.1,347.6 390.1,354.8 C396.2,362 406.9,368.7 417,375 C427.1,381.3 438.2,387.7 450.5,392.4 C462.8,397.1 477.6,400.8 490.8,403.2 C504.1,405.6 517.6,406.5 530,406.5 C542.4,406.5 559.2,403.6 565,403" stroke-width="3.9"/>
<path d="M383.5,332 C384.9,335.2 386.4,344.5 392,351 C397.6,357.5 412.8,367.7 417,371" stroke-width="1.2"/>
<path d="M663.7,315 C665.1,316.6 669.6,319.8 671.8,324.4 C674,329 676.1,336.6 677.1,342.4 C678.1,348.2 678.1,354.1 677.6,359.4 C677.1,364.7 675.9,369.1 673.9,374.2 C671.9,379.3 668.9,385.3 665.4,390.1 C661.9,394.9 658,398.4 652.7,402.8 C647.4,407.2 640.3,412 633.6,416.6 C626.9,421.2 618.8,426.9 612.4,430.4 C606,433.9 599.4,435.7 595,437.5 C590.6,439.3 588.1,440.4 585.9,441 C583.7,441.6 582.4,441 581.7,441" stroke-width="4.4"/>
<path d="M672.5,364 C672,365.4 671.8,368.3 669.7,372.1 C667.6,375.9 664.4,381.9 660.1,386.9 C655.9,391.8 650.4,397.2 644.2,401.8 C638,406.4 630.4,411 623,414.5 C615.6,418 606.2,420.9 600,423 C593.8,425.1 588.9,426.4 585.9,427.2 C582.9,427.9 582.4,427.4 581.7,427.5" stroke-width="3.9"/>
<path d="M659.5,340 C659.2,342.2 658.8,348.2 658,353 C657.2,357.8 657.1,363.6 654.8,368.9 C652.5,374.2 648.6,380 644.2,384.8 C639.8,389.6 634.5,393.2 628.3,397.5 C622.1,401.8 615,406.6 607.1,410.3 C599.2,414 586.3,417.9 580.6,419.8 C574.9,421.7 574.3,421.5 573,421.9" stroke-width="3.9"/>
<path d="M659.2,351.4 C658.7,354 658.3,362 656,367.3 C653.7,372.6 649.8,378.4 645.4,383.2 C641,388 635.7,391.6 629.5,395.9 C623.3,400.1 616.2,405 608.3,408.7 C600.4,412.4 586.2,416.6 581.8,418.2" stroke-width="1.1"/>
<path d="M656.6,371.1 C654.8,373.8 650.4,382.2 646,387 C641.6,391.8 636.3,395.4 630.1,399.7 C623.9,403.9 616.8,408.8 608.9,412.5 C601,416.2 586.8,420.4 582.4,422" stroke-width="1"/>
<path d="M566.7,402.5 L568.9,421.5" stroke-width="1.4"/>
<path d="M569.2,402.5 L570.6,420" stroke-width="1.2"/>
<path d="M573,421.9 L576.4,421.9 L581.7,427.2 L581.7,441" stroke-width="3.9"/>
<path d="M379,330.5 L295,383.5 L293.8,384.5 L293.8,405" stroke-width="4.2"/>
<path d="M298.8,390 L476.7,469.4" stroke-width="3.4"/>
<path d="M476.7,469.4 C477.4,469.5 479.7,470.1 481,470 C482.3,469.9 483.2,469.3 484.4,468.9 C485.6,468.5 487.4,467.7 488,467.5" stroke-width="3.4"/>
<path d="M488,467.5 L566.7,404.4" stroke-width="1.3"/>
<path d="M489.5,469.5 L567.5,407" stroke-width="1.3"/>
<path d="M295,406.2 L476.7,490 L481,491.3 L486,490.8 L490,488.9 L571.1,422.8" stroke-width="4.4"/>
<path d="M298,389 L298,404" stroke-width="1.5"/>
<path d="M474.4,476 L474.4,484" stroke-width="1.2"/>
<path d="M476.4,476 L476.4,484" stroke-width="1.2"/>
<path d="M485.8,476 L485.8,485.5" stroke-width="1.2"/>
<path d="M488.4,476 L488.4,485.5" stroke-width="1.2"/>
<path d="M378.5,313.5 L365.8,335" stroke-width="3.4"/>
<path d="M369.5,334 L379.5,328.5" stroke-width="2.9"/>
<path d="M376.8,320 L369.5,331.5" stroke-width="1.1"/>
<path d="M313.5,372.5 L314,357.5 L331,346.5 L337.5,346.5 L344,350.5 L344.5,354.3Z" fill="#000" stroke-width="1.6"/>
<path d="M323,358.5 L334,351 L339,354.3 L328,361.6Z" fill="#fcfefc" stroke="none"/>
<path d="M319,362 L324.5,363 L319.5,368Z" fill="#fcfefc" stroke="none"/>
<path d="M1093,188.4 L1491,289.6" stroke-width="3.4"/>
<path d="M1491,289.6 C1491.6,290.3 1493.8,291.6 1494.5,294 C1495.2,296.4 1495.7,300.9 1495.3,303.9 C1494.9,306.9 1493.2,309.2 1492,312 C1490.8,314.8 1489.9,316.9 1487.8,320.9 C1485.7,324.8 1481.7,331.1 1479.4,335.7 C1477.1,340.3 1475.2,344.7 1474.1,348.4 C1473,352.1 1473.2,356.4 1473,358" stroke-width="4.7"/>
<path d="M1473,358 L1464.5,358 L1461,355 L1456,349.5" stroke-width="3.4"/>
<path d="M1487.8,301.8 C1486,304.6 1480.7,312.8 1477.2,318.8 C1473.7,324.8 1469.1,332.5 1466.6,337.8 C1464.1,343.1 1462.9,347.8 1462.4,350.6 C1461.9,353.4 1463.3,354.1 1463.5,354.8" stroke-width="1.3"/>
<path d="M1485.5,300.5 C1483.8,303.3 1478.5,311.5 1475,317.5 C1471.5,323.5 1466.9,331.2 1464.5,336.5 C1462.1,341.8 1461.2,347.3 1460.5,349.5" stroke-width="1.3"/>
<ellipse cx="1472.2" cy="297.3" rx="9.6" ry="5.2" stroke-width="4.8"/>
<path d="M1464.5,358 C1462.9,359.8 1458.5,364.5 1455,368.6 C1451.5,372.7 1445.9,378.5 1443.3,382.4 C1440.7,386.3 1440.5,388.3 1439.5,392 C1438.5,395.7 1439.7,399.9 1437.5,404.6 C1435.3,409.3 1431.5,411.3 1426.4,420 C1421.4,428.7 1421.7,435.5 1407.2,456.9 C1392.7,478.3 1366.2,514 1339.2,548.4 C1312.2,582.8 1260.8,644.3 1245.1,663.5" stroke-width="4.4"/>
<path d="M1456,349.5 C1454.1,351.8 1448.6,358.4 1444.4,363.3 C1440.2,368.2 1435,374.5 1430.6,379.2 C1426.1,383.9 1424.2,385.5 1417.7,391.5 C1411.2,397.5 1401.5,404.2 1391.5,415.1 C1381.5,426 1373.2,436.8 1357.5,456.9 C1341.8,476.9 1321.8,503.4 1297.4,535.4 C1273,567.4 1225.5,630.1 1211.1,649.1" stroke-width="1.9"/>
<path d="M1457.8,350.1 C1455.9,352.4 1450.4,359 1446.2,363.9 C1442,368.9 1436.8,375.1 1432.4,379.8 C1427.9,384.5 1421.7,390.1 1419.5,392.1" stroke-width="1.2"/>
<path d="M1244.5,663 L1210.7,649.7 L1160,633.7 L1080,604.9 L873.3,533.2 L838.7,521.6 L787.5,502" stroke-width="3.9"/>
<path d="M787.5,502 C787.3,501.3 785.9,500.2 786.2,498 C786.5,495.8 787.2,493.6 789.2,489 C791.2,484.4 793.8,478.6 798.4,470.6 C803,462.6 810.7,451 816.8,441.2 C822.9,431.4 829,421.6 835.1,411.8 C841.2,402 847.4,392.2 853.5,382.4 C859.6,372.6 865.8,362.1 871.9,352.9 C878,343.7 884.2,335.2 890.3,327.2 C896.4,319.2 902.6,311.5 908.7,305.1 C914.8,298.7 920.9,293.5 927,288.6 C933.1,283.7 939.3,279.1 945.4,275.7 C951.5,272.3 958,270.2 963.8,268.4 C969.6,266.6 974.2,266.2 980,265 C985.8,263.8 993,262.8 998.8,261 C1004.6,259.2 1008,257.2 1015,254 C1022,250.8 1032.7,246.3 1041,242 C1049.3,237.7 1058,232.7 1065,228 C1072,223.3 1078.7,218.3 1083,214 C1087.3,209.7 1089.3,206.3 1091,202 C1092.7,197.7 1092.7,190.7 1093,188.4" stroke-width="4.4"/>
<ellipse cx="1105" cy="204" rx="9.2" ry="5.2" stroke-width="3.9"/>
<path d="M840,522.2 L838.7,530.7 L833,535.6 L866.9,547.6 L871.5,545 L873.3,533.5" stroke-width="3.9"/>
<path d="M842.5,524 L840.5,535" stroke-width="1.6"/>
<path d="M1104.5,616 L1103.2,624.5 L1097.5,629.4 L1131.4,641.4 L1136,638.8 L1137.8,627.3" stroke-width="3.9"/>
<path d="M1107,617.8 L1105,628.8" stroke-width="1.6"/>
<path d="M1251.3,292 C1241.1,289.2 1209.4,280.3 1190,275 C1170.6,269.7 1150.2,264 1135,260 C1119.8,256 1105.8,252.4 1099,251 C1092.2,249.6 1095.3,251 1094,251.5 C1092.7,252 1094.2,250.9 1091,254 C1087.8,257.1 1081,265 1075,270 C1069,275 1062.3,279.7 1055,284 C1047.7,288.3 1037.7,293.3 1031,296 C1024.3,298.7 1021,297.7 1015,300 C1009,302.3 1001,305.7 995,310 C989,314.3 983.5,320.3 979,326 C974.5,331.7 970.7,338.8 968,344 C965.3,349.2 963.8,354.8 963,357" stroke-width="1.9"/>
<path d="M963,357 L897,466" stroke-width="1.5"/>
<path d="M960.5,357 L894.5,465" stroke-width="1.2"/>
<path d="M962,363 C962.8,362.2 964.8,359.4 967,358.5 C969.2,357.6 973.7,357.7 975,357.5" stroke-width="2.9"/>
<path d="M975,357.5 L1220,432" stroke-width="2.9"/>
<path d="M896,467 C896.1,468.2 894.8,472.2 896.5,474 C898.2,475.8 904.4,477.3 906,478" stroke-width="2.9"/>
<path d="M906,478 L1154,555" stroke-width="3.1"/>
<path d="M1154,555 C1154.7,554.9 1156.8,555 1158,554.5 C1159.2,554 1160.5,552.4 1161,552" stroke-width="3.1"/>
<path d="M1161,552 C1171.1,534.4 1206.6,471.8 1221.5,446.4 C1236.4,421 1242,412.5 1250.3,399.4 C1258.6,386.3 1265.8,375.2 1271.2,368 C1276.7,360.8 1279.5,358.8 1283,356 C1286.5,353.2 1290.6,351.8 1292.1,351" stroke-width="1.8"/>
<path d="M1162.6,552.6 C1172.7,535 1208.2,472.4 1223.1,447 C1238,421.6 1243.6,413.1 1251.9,400 C1260.2,386.9 1267.3,375.8 1272.8,368.6 C1278.2,361.4 1282.6,358.6 1284.6,356.6" stroke-width="1.2"/>
<path d="M1211.2,319.8 C1213.5,318.3 1220.2,314.1 1225,311 C1229.8,307.9 1235.3,304.3 1240,301 C1244.7,297.7 1249,294.5 1253.3,291 C1257.6,287.5 1262.6,283.4 1266,280 C1269.4,276.6 1271.9,273.1 1273.9,270.4 C1275.9,267.7 1276.5,265.5 1278,264 C1279.5,262.5 1281,261.9 1283,261.5 C1285,261.1 1288.8,261.5 1290,261.5" stroke-width="1.9"/>
<path d="M1290,261.5 L1444.5,301.3" stroke-width="1.9"/>
<path d="M1444.5,301.3 C1445.2,301.8 1448.2,303 1449,304 C1449.8,305 1450.1,305.7 1449.6,307.4 C1449.1,309.1 1447.9,310.6 1446,314 C1444.1,317.4 1442,322.8 1438.3,328 C1434.6,333.2 1429.1,339.5 1424,345 C1418.9,350.5 1412.8,356.7 1407.5,360.9 C1402.2,365.1 1396.6,367.7 1392,370 C1387.4,372.3 1383.2,373.8 1380,374.5 C1376.8,375.2 1373.8,374.2 1372.6,374.2" stroke-width="1.9"/>
<path d="M1372.6,374.2 L1211.2,321 L1210.8,319.8" stroke-width="1.9"/>
<rect x="-21" y="-3.3" width="42" height="6.6" rx="2" stroke-width="3.1" transform="translate(995.5 377.5) rotate(18)"/>
<rect x="-27.5" y="-3.3" width="55" height="6.6" rx="2" stroke-width="3.1" transform="translate(1054.5 395.5) rotate(18)"/>
<rect x="-27.5" y="-3.3" width="55" height="6.6" rx="2" stroke-width="3.1" transform="translate(1120 417.5) rotate(18)"/>
<rect x="-27.5" y="-3.3" width="55" height="6.6" rx="2" stroke-width="3.1" transform="translate(1188.5 439.5) rotate(18)"/>
<rect x="-21" y="-3.3" width="42" height="6.6" rx="2" stroke-width="3.1" transform="translate(979.5 398) rotate(18)"/>
<rect x="-27.5" y="-3.3" width="55" height="6.6" rx="2" stroke-width="3.1" transform="translate(1039.5 417.5) rotate(18)"/>
<rect x="-27.5" y="-3.3" width="55" height="6.6" rx="2" stroke-width="3.1" transform="translate(1105.5 439.5) rotate(18)"/>
<rect x="-27.5" y="-3.3" width="55" height="6.6" rx="2" stroke-width="3.1" transform="translate(1173.5 461) rotate(18)"/>
<rect x="-21" y="-3.3" width="42" height="6.6" rx="2" stroke-width="3.1" transform="translate(963 418.5) rotate(18)"/>
<rect x="-27.5" y="-3.3" width="55" height="6.6" rx="2" stroke-width="3.1" transform="translate(1026 439.5) rotate(18)"/>
<rect x="-27.5" y="-3.3" width="55" height="6.6" rx="2" stroke-width="3.1" transform="translate(1091 461.5) rotate(18)"/>
<rect x="-27.5" y="-3.3" width="55" height="6.6" rx="2" stroke-width="3.1" transform="translate(1159.5 482.5) rotate(18)"/>
<rect x="-21" y="-3.3" width="42" height="6.6" rx="2" stroke-width="3.1" transform="translate(946 445.5) rotate(18)"/>
<rect x="-27.5" y="-3.3" width="55" height="6.6" rx="2" stroke-width="3.1" transform="translate(1007 464.5) rotate(18)"/>
<rect x="-27.5" y="-3.3" width="55" height="6.6" rx="2" stroke-width="3.1" transform="translate(1072 486) rotate(18)"/>
<rect x="-27.5" y="-3.3" width="55" height="6.6" rx="2" stroke-width="3.1" transform="translate(1141.5 507) rotate(18)"/>
<rect x="-21" y="-3.3" width="42" height="6.6" rx="2" stroke-width="3.1" transform="translate(928 471.5) rotate(18)"/>
<rect x="-27.5" y="-3.3" width="55" height="6.6" rx="2" stroke-width="3.1" transform="translate(991 489.5) rotate(18)"/>
<rect x="-27.5" y="-3.3" width="55" height="6.6" rx="2" stroke-width="3.1" transform="translate(1056 512) rotate(18)"/>
<rect x="-27.5" y="-3.3" width="55" height="6.6" rx="2" stroke-width="3.1" transform="translate(1123 536) rotate(18)"/>
<g>
<path d="M1089.4,834.1 L1090.1,805.7 L1048.6,766.1 L1048.6,795.8 L1061.6,808.1" stroke-width="4.8"/>
<path d="M1075.8,836.6 L1076.5,814.3 L1039.4,800.7 L1004.7,790.8 L1004.7,823" stroke-width="4.8"/>
<path d="M1045.5,797.5 L1049.5,796.5 L1053,802.5" stroke-width="2.9"/>
<path d="M1075.2,835.3 L1074,824.2 L988.7,824.2 L988.7,855.1 L1006,855.1" stroke-width="4.8"/>
<path d="M1072.3,826 L1072.5,834" stroke-width="1.6"/>
<path d="M1006,884.8 L1006,856.4 L1075.2,836.6" stroke-width="4.8"/>
<path d="M1009.7,886 L1059.1,871.2" stroke-width="3.4"/>
<path d="M1048.6,909.5 L1048.6,883.6 L1088.8,844 L1089.4,873.7" stroke-width="4.8"/>
<path d="M1053,910.8 L1089.4,873.7" stroke-width="3.1"/>
<path d="M1107,920 C1105.7,920 1101.8,919.9 1099.3,919.8 C1096.7,919.7 1094.1,919.6 1091.6,919.4 C1089,919.2 1086.5,918.9 1083.9,918.6 C1081.4,918.3 1078.9,918 1076.4,917.5 C1073.9,917.1 1071.4,916.7 1069,916.2 C1066.5,915.7 1064.1,915.1 1061.7,914.5 C1059.3,913.9 1057,913.3 1054.7,912.6 C1052.4,911.9 1050.1,911.1 1047.9,910.4 C1045.6,909.6 1043.4,908.7 1041.3,907.9 C1039.1,907 1037,906.1 1035,905.1 C1032.9,904.2 1030.9,903.2 1029,902.1 C1027.1,901.1 1025.2,900 1023.3,898.9 C1021.5,897.8 1019.8,896.7 1018.1,895.5 C1016.4,894.3 1014.7,893.1 1013.1,891.8 C1011.6,890.6 1010.1,889.3 1008.6,888 C1007.2,886.7 1005.8,885.4 1004.5,884 C1003.3,882.6 1002,881.3 1000.9,879.8 C999.8,878.4 998.7,877 997.7,875.6 C996.7,874.1 995.8,872.6 995,871.1 C994.1,869.7 993.4,868.2 992.7,866.6 C992.1,865.1 991.5,863.6 991,862 C990.5,860.5 990,859 989.7,857.4 C989.4,855.8 989.1,854.3 989,852.7 C988.8,851.1 988.7,848.8 988.7,848" stroke-width="4.8"/>
<path d="M1072.8,788.3 C1075.9,787.9 1085.6,786.4 1091.3,785.9 C1097,785.4 1104.4,785.3 1107,785.2" stroke-width="3.6"/>
<path d="M1078.9,847.5 C1081,845.6 1086.6,838.7 1091.3,836.3 C1096,833.9 1104.4,833.5 1107,833" stroke-width="3.4"/>
<path d="M1090.5,866.4 C1091.2,865.5 1092.2,862.1 1095,861 C1097.8,859.9 1105,859.8 1107,859.6" stroke-width="3.1"/>
<path d="M1090.5,866.4 C1091.2,867.4 1092.2,871.1 1095,872.3 C1097.8,873.5 1105,873.2 1107,873.4" stroke-width="3.1"/>
<path d="M1079.5,792.4 C1081.6,792.1 1087.4,790.8 1092,790.4 C1096.6,790 1104.5,789.9 1107,789.8" stroke-width="2.6"/>
</g>
<g transform="matrix(-1 0 0 1 2214 0)">
<path d="M1089.4,834.1 L1090.1,805.7 L1048.6,766.1 L1048.6,795.8 L1061.6,808.1" stroke-width="4.8"/>
<path d="M1075.8,836.6 L1076.5,814.3 L1039.4,800.7 L1004.7,790.8 L1004.7,823" stroke-width="4.8"/>
<path d="M1045.5,797.5 L1049.5,796.5 L1053,802.5" stroke-width="2.9"/>
<path d="M1075.2,835.3 L1074,824.2 L988.7,824.2 L988.7,855.1 L1006,855.1" stroke-width="4.8"/>
<path d="M1072.3,826 L1072.5,834" stroke-width="1.6"/>
<path d="M1006,884.8 L1006,856.4 L1075.2,836.6" stroke-width="4.8"/>
<path d="M1009.7,886 L1059.1,871.2" stroke-width="3.4"/>
<path d="M1048.6,909.5 L1048.6,883.6 L1088.8,844 L1089.4,873.7" stroke-width="4.8"/>
<path d="M1053,910.8 L1089.4,873.7" stroke-width="3.1"/>
<path d="M1107,920 C1105.7,920 1101.8,919.9 1099.3,919.8 C1096.7,919.7 1094.1,919.6 1091.6,919.4 C1089,919.2 1086.5,918.9 1083.9,918.6 C1081.4,918.3 1078.9,918 1076.4,917.5 C1073.9,917.1 1071.4,916.7 1069,916.2 C1066.5,915.7 1064.1,915.1 1061.7,914.5 C1059.3,913.9 1057,913.3 1054.7,912.6 C1052.4,911.9 1050.1,911.1 1047.9,910.4 C1045.6,909.6 1043.4,908.7 1041.3,907.9 C1039.1,907 1037,906.1 1035,905.1 C1032.9,904.2 1030.9,903.2 1029,902.1 C1027.1,901.1 1025.2,900 1023.3,898.9 C1021.5,897.8 1019.8,896.7 1018.1,895.5 C1016.4,894.3 1014.7,893.1 1013.1,891.8 C1011.6,890.6 1010.1,889.3 1008.6,888 C1007.2,886.7 1005.8,885.4 1004.5,884 C1003.3,882.6 1002,881.3 1000.9,879.8 C999.8,878.4 998.7,877 997.7,875.6 C996.7,874.1 995.8,872.6 995,871.1 C994.1,869.7 993.4,868.2 992.7,866.6 C992.1,865.1 991.5,863.6 991,862 C990.5,860.5 990,859 989.7,857.4 C989.4,855.8 989.1,854.3 989,852.7 C988.8,851.1 988.7,848.8 988.7,848" stroke-width="4.8"/>
<path d="M1072.8,788.3 C1075.9,787.9 1085.6,786.4 1091.3,785.9 C1097,785.4 1104.4,785.3 1107,785.2" stroke-width="3.6"/>
<path d="M1078.9,847.5 C1081,845.6 1086.6,838.7 1091.3,836.3 C1096,833.9 1104.4,833.5 1107,833" stroke-width="3.4"/>
<path d="M1090.5,866.4 C1091.2,865.5 1092.2,862.1 1095,861 C1097.8,859.9 1105,859.8 1107,859.6" stroke-width="3.1"/>
<path d="M1090.5,866.4 C1091.2,867.4 1092.2,871.1 1095,872.3 C1097.8,873.5 1105,873.2 1107,873.4" stroke-width="3.1"/>
<path d="M1079.5,792.4 C1081.6,792.1 1087.4,790.8 1092,790.4 C1096.6,790 1104.5,789.9 1107,789.8" stroke-width="2.6"/>
</g>
<path d="M1107.4,756.2 L1107.4,831.6" stroke-width="4.8"/>
<path d="M1108,849 L1109,919.4" stroke-width="4.8"/>
<g transform="translate(0 0)">
<path d="M1009.5,701.3 L1042.6,698.4 L1051,725 L1047.6,738.8 L1013,739.2 L1005.3,712.5Z" fill="#000" stroke-width="2.4"/>
<path d="M1017,705 L1038,704.2 L1043.2,721 L1023.2,724Z" fill="#fcfefc" stroke="#fcfefc" stroke-width="1.6"/>
<path d="M1011.2,713 L1017.6,731 L1015.6,732.6 L1011.2,721.5Z" fill="#fcfefc" stroke="none"/>
<path d="M1022.2,731.6 L1042.8,731.4 L1042,734.6 L1022.2,734.8Z" fill="#fcfefc" stroke="none"/>
<ellipse cx="1029.9" cy="713.7" rx="5.25" ry="4.9" stroke-width="5"/>
</g>
<g transform="translate(126.8 2.2)">
<path d="M1009.5,701.3 L1042.6,698.4 L1051,725 L1047.6,738.8 L1013,739.2 L1005.3,712.5Z" fill="#000" stroke-width="2.4"/>
<path d="M1017,705 L1038,704.2 L1043.2,721 L1023.2,724Z" fill="#fcfefc" stroke="#fcfefc" stroke-width="1.6"/>
<path d="M1011.2,713 L1017.6,731 L1015.6,732.6 L1011.2,721.5Z" fill="#fcfefc" stroke="none"/>
<path d="M1022.2,731.6 L1042.8,731.4 L1042,734.6 L1022.2,734.8Z" fill="#fcfefc" stroke="none"/>
<ellipse cx="1029.9" cy="713.7" rx="5.25" ry="4.9" stroke-width="5"/>
</g>
<g transform="translate(0 0)">
<ellipse cx="1104.6" cy="120.5" rx="15.3" ry="8.4" stroke-width="3.8"/>
<path d="M1089.3,120.5 L1089.3,128.5" stroke-width="3.4"/>
<path d="M1119.9,120.5 L1119.9,128.5" stroke-width="3.4"/>
<path d="M1119.9,128.5 C1119.9,128.7 1119.8,129.2 1119.7,129.5 C1119.6,129.9 1119.4,130.2 1119.2,130.5 C1118.9,130.9 1118.6,131.2 1118.2,131.5 C1117.9,131.8 1117.4,132.1 1117,132.4 C1116.5,132.7 1116,132.9 1115.4,133.2 C1114.9,133.4 1114.2,133.6 1113.6,133.8 C1112.9,134 1112.3,134.2 1111.5,134.4 C1110.8,134.5 1110.1,134.7 1109.3,134.8 C1108.6,134.9 1107.8,135 1107,135 C1106.2,135.1 1105.4,135.1 1104.6,135.1 C1103.8,135.1 1103,135.1 1102.2,135 C1101.4,135 1100.6,134.9 1099.9,134.8 C1099.1,134.7 1098.4,134.5 1097.7,134.4 C1096.9,134.2 1096.3,134 1095.6,133.8 C1095,133.6 1094.3,133.4 1093.8,133.2 C1093.2,132.9 1092.7,132.7 1092.2,132.4 C1091.8,132.1 1091.3,131.8 1091,131.5 C1090.6,131.2 1090.3,130.9 1090,130.5 C1089.8,130.2 1089.6,129.9 1089.5,129.5 C1089.4,129.2 1089.3,128.7 1089.3,128.5" stroke-width="3.4"/>
<ellipse cx="1104.9" cy="120.3" rx="7.6" ry="3.4" stroke-width="1.8" fill="#000"/>
<ellipse cx="1104.4" cy="119.6" rx="2.5" ry="1.3" stroke-width="0" fill="#fcfefc" stroke="none"/>
<path d="M1096.2,136 C1096.4,138.3 1096.7,145.5 1097.3,150 C1097.9,154.5 1098.8,159.2 1100,163 C1101.2,166.8 1103.6,170.9 1104.3,172.5" stroke-width="3.6"/>
<path d="M1111.3,136 C1111.2,138.3 1111.3,145.5 1110.8,150 C1110.3,154.5 1109.6,159.2 1108.5,163 C1107.4,166.8 1105,170.9 1104.3,172.5" stroke-width="3.6"/>
<path d="M1098,141 L1105.5,143.5 L1099,148.5 L1108.3,150.5 L1100,156 L1107.3,158.5 L1101.5,164" stroke-width="2.6"/>
</g>
<g transform="translate(371.1 82)">
<ellipse cx="1104.6" cy="120.5" rx="15.3" ry="8.4" stroke-width="3.8"/>
<path d="M1089.3,120.5 L1089.3,128.5" stroke-width="3.4"/>
<path d="M1119.9,120.5 L1119.9,128.5" stroke-width="3.4"/>
<path d="M1119.9,128.5 C1119.9,128.7 1119.8,129.2 1119.7,129.5 C1119.6,129.9 1119.4,130.2 1119.2,130.5 C1118.9,130.9 1118.6,131.2 1118.2,131.5 C1117.9,131.8 1117.4,132.1 1117,132.4 C1116.5,132.7 1116,132.9 1115.4,133.2 C1114.9,133.4 1114.2,133.6 1113.6,133.8 C1112.9,134 1112.3,134.2 1111.5,134.4 C1110.8,134.5 1110.1,134.7 1109.3,134.8 C1108.6,134.9 1107.8,135 1107,135 C1106.2,135.1 1105.4,135.1 1104.6,135.1 C1103.8,135.1 1103,135.1 1102.2,135 C1101.4,135 1100.6,134.9 1099.9,134.8 C1099.1,134.7 1098.4,134.5 1097.7,134.4 C1096.9,134.2 1096.3,134 1095.6,133.8 C1095,133.6 1094.3,133.4 1093.8,133.2 C1093.2,132.9 1092.7,132.7 1092.2,132.4 C1091.8,132.1 1091.3,131.8 1091,131.5 C1090.6,131.2 1090.3,130.9 1090,130.5 C1089.8,130.2 1089.6,129.9 1089.5,129.5 C1089.4,129.2 1089.3,128.7 1089.3,128.5" stroke-width="3.4"/>
<ellipse cx="1104.9" cy="120.3" rx="7.6" ry="3.4" stroke-width="1.8" fill="#000"/>
<ellipse cx="1104.4" cy="119.6" rx="2.5" ry="1.3" stroke-width="0" fill="#fcfefc" stroke="none"/>
<path d="M1096.2,136 C1096.4,138.3 1096.7,145.5 1097.3,150 C1097.9,154.5 1098.8,159.2 1100,163 C1101.2,166.8 1103.6,170.9 1104.3,172.5" stroke-width="3.6"/>
<path d="M1111.3,136 C1111.2,138.3 1111.3,145.5 1110.8,150 C1110.3,154.5 1109.6,159.2 1108.5,163 C1107.4,166.8 1105,170.9 1104.3,172.5" stroke-width="3.6"/>
<path d="M1098,141 L1105.5,143.5 L1099,148.5 L1108.3,150.5 L1100,156 L1107.3,158.5 L1101.5,164" stroke-width="2.6"/>
</g>
<ellipse cx="578.4" cy="662.1" rx="87.1" ry="60.7" stroke-width="3.9"/>
<path d="M493,680 C494.2,682.8 496.3,692 500,697 C503.7,702 508.3,705.8 515,710 C521.7,714.2 529.5,719.2 540,722 C550.5,724.8 564.7,727 578,727 C591.3,727 608.3,724.8 620,722 C631.7,719.2 643.3,712 648,710" stroke-width="1.3"/>
<path d="M495,684 C496.3,686.7 498.8,695.3 503,700 C507.2,704.7 517.2,710 520,712" stroke-width="1.3"/>
<ellipse cx="578.4" cy="663.7" rx="55.2" ry="38.1" stroke-width="3.4"/>
<ellipse cx="578" cy="653.6" rx="40" ry="28.7" stroke-width="3.1"/>
<ellipse cx="578.8" cy="640.5" rx="10.5" ry="4.6" stroke-width="3.1"/>
<path d="M568.3,640.5 L568.3,665" stroke-width="3.4"/>
<path d="M589.3,640.5 L589.3,665" stroke-width="3.4"/>
<path d="M589.3,665 C589.2,665.2 589.2,665.7 588.9,666 C588.7,666.4 588.3,666.7 587.9,667 C587.4,667.3 586.9,667.6 586.2,667.8 C585.6,668.1 584.8,668.3 584,668.5 C583.3,668.6 582.4,668.8 581.5,668.9 C580.6,669 579.7,669 578.8,669 C577.9,669 577,669 576.1,668.9 C575.2,668.8 574.3,668.6 573.5,668.5 C572.8,668.3 572,668.1 571.4,667.8 C570.7,667.6 570.2,667.3 569.7,667 C569.3,666.7 568.9,666.4 568.7,666 C568.4,665.7 568.4,665.2 568.3,665" stroke-width="3.4"/>
<path d="M564.4,630.2 L569,637" stroke-width="1.3"/>
<path d="M588.5,670.5 L593.2,678.4" stroke-width="1.3"/>
<ellipse cx="573.2" cy="632.8" rx="3.4" ry="2.2" stroke-width="2.9"/>
<ellipse cx="585.3" cy="673.4" rx="3.4" ry="2.4" stroke-width="2.9"/>
<path d="M450.5,733.9 C450.4,729.6 450.1,716 450,707.9 C449.9,699.8 449.9,691.8 450,685.2 C450.1,678.6 449.9,673.4 450.5,668.3 C451.1,663.2 451.5,660.4 453.9,654.7 C456.3,649 459.9,640.7 464.9,634.1 C469.8,627.5 476.9,620.1 483.6,615.4 C490.3,610.7 500.4,608.3 505.3,606.1 C510.2,603.9 511.8,602.9 513.1,602.2" stroke-width="3.6"/>
<path d="M513.1,600.7 L533.3,590.6 L564.4,582 L566,600.7" stroke-width="3.4"/>
<path d="M511.6,604.6 L534.9,612.3" stroke-width="2.9"/>
<path d="M519.3,599.9 L539.6,608.4" stroke-width="2.9"/>
<path d="M566,600.7 L571,602" stroke-width="3.1"/>
<path d="M661,635 C662.5,635 666.4,635.3 670,635 C673.6,634.7 679.6,633.9 682.7,633.3 C685.9,632.7 687.9,631.8 688.9,631.5" stroke-width="3.4"/>
<path d="M688.9,631.5 C690.2,633.2 694.1,637.8 696.7,641.9 C699.3,646 702.3,650.2 704.4,655.9 C706.5,661.6 708.2,670.4 709.1,676.1 C710,681.8 709.8,687.7 709.9,690" stroke-width="3.6"/>
<path d="M706,676 L706,767.8" stroke-width="3.6"/>
<path d="M491.3,676.1 C489.1,675.8 481.4,674.8 478,674 C474.6,673.2 472.4,672.4 471.1,671.4 C469.8,670.4 470.4,670.2 470.3,668.3 C470.2,666.4 469.3,663.4 470.5,660 C471.7,656.6 473.8,652.7 477.3,648.1 C480.8,643.5 486.4,636.8 491.3,632.6 C496.2,628.5 503.8,624.6 506.9,623.2 C510,621.8 509.5,623.9 510,624" stroke-width="3.1"/>
<path d="M451.5,676.5 C452.4,676 455.1,673.8 457,673.5 C458.9,673.2 457,672.5 463,674.8 C469,677 487.9,685 492.9,687" stroke-width="3.1"/>
<path d="M452.8,705.6 C453.6,706.4 454.5,708.6 457.3,710.1 C460.1,711.6 467,713.2 469.8,714.7 C472.6,716.2 472.7,717.1 474,719 C475.3,720.9 477.1,724.8 477.7,726" stroke-width="3.4"/>
<path d="M452.8,705.6 L452.8,733.9" stroke-width="1.4"/>
<path d="M482,715.8 L586.2,756.2" stroke-width="3.1"/>
<path d="M670.2,665.2 L704.4,677.7" stroke-width="3.1"/>
<path d="M668.7,673 L704.4,683.9" stroke-width="3.1"/>
<path d="M668.7,682.3 C670.6,682.4 677.1,682.5 680,683 C682.9,683.5 684.1,683.2 685.8,685.4 C687.5,687.6 689.9,691.4 690.4,696.3 C690.9,701.2 691,709.3 688.9,715 C686.8,720.7 682.4,726.7 678,730.6 C673.6,734.5 667.1,736.8 662.4,738.3 C657.7,739.8 653.4,739.4 650,739.5 C646.6,739.6 648.7,741.5 642.2,739.2 C635.7,736.9 616.3,728.1 611.1,725.9" stroke-width="3.1"/>
<path d="M603.8,727.5 L649.7,753.2" stroke-width="2.6"/>
<path d="M704.7,707.3 C703.5,709.8 701.3,716.2 697.3,722 C693.3,727.8 688.1,735.8 680.8,742.2 C673.5,748.6 664,755.3 653.3,760.5 C642.6,765.7 622.8,771.2 616.7,773.3" stroke-width="3.1"/>
<path d="M702,712 C700.8,714.2 698.7,720.3 695,725 C691.3,729.7 682.5,737.5 680,740" stroke-width="1.2"/>
<path d="M450.5,733.9 C449.2,736.2 445.4,742.4 442.6,747.5 C439.8,752.6 436.2,758.8 433.6,764.4 C431,770 428.4,776.8 426.8,781.4 C425.2,786 424.3,788.5 424.2,792 C424.1,795.5 424.2,799.1 426,802.7 C427.8,806.3 430.9,810.7 435.2,813.7 C439.5,816.8 445.9,819.2 451.7,821 C457.5,822.8 466.9,824.1 470,824.7" stroke-width="3.4"/>
<ellipse cx="448" cy="774.3" rx="5" ry="3.3" stroke-width="3.1"/>
<path d="M459.6,718 C459.7,721.7 460,734.1 460.2,740 C460.4,745.9 460.4,747.3 460.7,753.1 C461,758.9 461.4,767.2 462,775 C462.6,782.8 462.8,791.1 464.1,800 C465.4,808.9 469,823.6 470,828.3" stroke-width="3.1"/>
<path d="M457.5,718 L458.3,760" stroke-width="1.2"/>
<path d="M470,824.7 C471.5,828.4 474.6,840 479.2,846.7 C483.8,853.4 489.9,859.8 497.5,865 C505.1,870.2 514.3,874.4 525,877.8 C535.7,881.2 552.5,883.4 561.7,885.2 C570.9,887 577,888.2 580,888.8" stroke-width="3.4"/>
<path d="M476.8,727.1 L560.6,762.5" stroke-width="3.6"/>
<path d="M471.9,731.9 L558.1,766.6" stroke-width="3.1"/>
<path d="M493,737 L520,748" stroke-width="1.2"/>
<path d="M471.1,736.5 L554.1,770.8" stroke-width="1.6"/>
<path d="M470.3,731.1 L469.5,750.5" stroke-width="3.4"/>
<path d="M471.1,751.3 L551.7,781.9" stroke-width="4.7"/>
<path d="M485.6,774.6 L551.7,802" stroke-width="3.6"/>
<path d="M560.6,762.5 L561.4,794 L555.7,802.8 L551.7,802" stroke-width="3.6"/>
<path d="M552.3,771.5 L552.3,801" stroke-width="3.1"/>
<path d="M552.3,786 L561,780" stroke-width="2.9"/>
<path d="M473,757.5 L496,760" stroke-width="1.6"/>
<path d="M497,760.5 L523,770" stroke-width="2.6"/>
<path d="M522,775.5 L534.5,779.5 L535.5,786 L531,788 L523,786Z" stroke-width="2.6"/>
<path d="M468.7,745.6 C468.3,747.9 465.9,754.7 466.3,759.3 C466.7,763.9 467.5,768 471.1,773 C474.7,778 480.5,784.5 487.9,789.6 C495.2,794.7 504.6,798 515.2,803.8 C525.8,809.6 545.4,821.1 551.4,824.6" stroke-width="3.9"/>
<path d="M466.5,762 C467.1,764.2 466.3,770 470,775 C473.7,780 480.9,786.6 488.5,791.8 C496.1,797 505.6,800.6 515.5,806 C525.4,811.4 542.6,821 548,824" stroke-width="2.9"/>
<path d="M476,768 C477.4,769.2 479,771.9 484.6,775.3 C490.2,778.7 499,781.9 509.8,788.5 C520.6,795.1 540.1,808.6 549.2,814.8 C558.3,821 559.2,821 564.5,825.7 C569.8,830.4 576.4,837.7 581,843.2 C585.6,848.7 589.4,853.3 591.9,858.6 C594.4,863.9 595.9,870.2 596.3,875 C596.7,879.8 595.6,884.6 594.1,887.1 C592.6,889.6 588.6,889.8 587.5,890.3" stroke-width="3.4"/>
<path d="M464.7,747.2 C464.4,749.9 462.7,758.5 463.1,763.3 C463.5,768.1 465.9,772.2 467.1,776.2 C468.3,780.2 466.8,783 470.3,787.4 C473.8,791.8 479.5,797.6 487.9,802.7 C496.3,807.8 508.8,812.5 520.7,818 C532.6,823.5 550,830.3 559.1,835.6 C568.2,840.9 571,844.5 575.5,849.8 C580,855.1 584.4,862.2 586.4,867.3 C588.4,872.4 587.9,877.4 587.5,880.5 C587.1,883.6 584.8,885.1 584.2,886" stroke-width="3.4"/>
<path d="M534.2,898 L541.5,905.3 L589.2,896.2 L589.2,889" stroke-width="3.1"/>
<path d="M534.2,898 L560,891 L585,887" stroke-width="2.9"/>
<path d="M550.7,815.5 L603.8,815.5 L605.7,887" stroke-width="3.1"/>
<path d="M514,821 L514.9,872.3" stroke-width="3.1"/>
<path d="M585.5,764.2 C588.5,765.1 599.2,766.7 603.8,769.7 C608.4,772.8 610.9,775.8 613,782.5 C615.1,789.2 615.9,792.6 616.7,810 C617.5,827.4 617.5,874.2 617.6,887" stroke-width="3.1"/>
<path d="M580,888.8 L617.6,887 L623,886" stroke-width="3.1"/>
<path d="M706,767.8 L731.1,768.8" stroke-width="3.4"/>
<path d="M731.1,768.8 C731.9,772.5 734.9,783.4 735.6,790.9 C736.4,798.4 736.4,806.9 735.6,813.5 C734.9,820.1 733.5,824.2 731.1,830.4 C728.7,836.6 725.9,843.6 721,850.8 C716.1,858 704.9,869.6 701.7,873.4" stroke-width="3.4"/>
<path d="M701.7,873.4 L699.5,876.8 L676.9,865.5 L670.1,866.6" stroke-width="3.6"/>
<path d="M670.1,866.6 C666,868.7 653.1,875.6 645.2,879 C637.3,882.4 626.4,885.7 622.6,887" stroke-width="3.1"/>
<path d="M702.9,777.3 C703.1,780.5 704.6,789.5 704,796.5 C703.4,803.5 702.1,811.9 699.5,819.1 C696.9,826.3 693.5,832.9 688.2,839.5 C682.9,846.1 675,853.6 667.8,858.7 C660.6,863.8 652.9,866.8 645.2,870 C637.5,873.2 625.5,876.6 621.5,877.9" stroke-width="2.9"/>
<ellipse cx="717.6" cy="785.2" rx="6" ry="3.7" stroke-width="2.9"/>
<ellipse cx="717.6" cy="810.1" rx="6" ry="3.7" stroke-width="2.9"/>
<ellipse cx="701.7" cy="839.5" rx="6" ry="3.7" stroke-width="2.9"/>
<path d="M862,1037.5 C864.2,1037.7 870.9,1038.3 875,1038.8 C879.1,1039.3 884,1040.5 886.5,1040.5 C889,1040.5 888,1039.2 890,1038.8 C892,1038.4 895.9,1037.8 898.2,1038.2 C900.5,1038.6 903,1040.6 904,1041.1" stroke-width="3.9"/>
<path d="M904,1041.1 L995,1080.2 L999.7,1081.6 L1002,1081.3 L1016,1081.9 L1065,1102.3 L1084,1110.5 L1089.8,1113.4 L1150.4,1138 L1170.7,1149.6 L1242.5,1198.8" stroke-width="3.9"/>
<path d="M1242.5,1198.8 C1245,1199.4 1252.9,1200.4 1257.5,1202.5 C1262.1,1204.6 1266.7,1209.2 1270,1211.2 C1273.3,1213.3 1275.2,1214.8 1277.5,1215 C1279.8,1215.2 1281.9,1215 1283.8,1212.5 C1285.6,1210 1287.9,1202.1 1288.8,1200" stroke-width="3.9"/>
<path d="M1288.8,1200 L1356.2,1227.5 L1357.5,1232.5 L1341.2,1265 L1327.5,1293.8" stroke-width="3.9"/>
<path d="M1327.5,1293.8 L1200,1236.2 L1152.5,1212.5 L1140,1206.2 L1037.8,1158 L1020.7,1149 L951.8,1102.3" stroke-width="3.9"/>
<path d="M951.8,1102.3 C951.2,1101.9 950,1101.5 948.3,1100 C946.5,1098.5 944.4,1096.3 941.3,1093 C938.2,1089.7 933.2,1083.1 929.7,1080.2 C926.2,1077.3 922.9,1076.3 920.3,1075.5 C917.7,1074.7 915.8,1075.3 914,1075.5 C912.2,1075.7 910.5,1076.5 909.8,1076.7" stroke-width="3.9"/>
<path d="M909.8,1076.7 L862,1039 L861.5,1037.6" stroke-width="4.7"/>
<path d="M866,1040 L908,1071" stroke-width="2.6"/>
<path d="M887.7,1042.8 L912.2,1072.5 L909.8,1076.7" stroke-width="2.6"/>
<path d="M951.8,1097.7 L996.2,1084.8" stroke-width="4.2"/>
<path d="M1153.8,1212.5 L1236.2,1201.2" stroke-width="4.2"/>
<path d="M1201.2,1235 L1256.2,1203.8" stroke-width="1.6"/>
<path d="M1202.5,1237 L1257.5,1205.5" stroke-width="1"/>
<path d="M1285.6,1217.5 L1341.2,1265.6" stroke-width="2.9"/>
<ellipse cx="1054.4" cy="1132.2" rx="4.2" ry="2.8" stroke-width="3.1"/>
<ellipse cx="1132.3" cy="1166.9" rx="4.2" ry="2.8" stroke-width="3.1"/>
<path d="M1135.4,987 C1135.4,987.3 1135.3,988.1 1135.2,988.7 C1135,989.2 1134.8,989.8 1134.6,990.3 C1134.3,990.9 1133.9,991.4 1133.5,991.9 C1133.1,992.4 1132.6,992.9 1132.1,993.4 C1131.5,993.9 1130.9,994.4 1130.3,994.8 C1129.6,995.2 1128.9,995.7 1128.1,996.1 C1127.3,996.4 1126.5,996.8 1125.7,997.2 C1124.8,997.5 1123.9,997.8 1123,998.1 C1122,998.4 1121,998.6 1120,998.8 C1119,999 1118,999.2 1116.9,999.4 C1115.9,999.5 1114.8,999.6 1113.8,999.7 C1112.7,999.8 1111.6,999.8 1110.5,999.8 C1109.4,999.8 1108.3,999.8 1107.2,999.7 C1106.2,999.6 1105.1,999.5 1104.1,999.4 C1103,999.2 1102,999 1101,998.8 C1100,998.6 1099,998.4 1098,998.1 C1097.1,997.8 1096.2,997.5 1095.3,997.2 C1094.5,996.8 1093.7,996.4 1092.9,996.1 C1092.1,995.7 1091.4,995.2 1090.7,994.8 C1090.1,994.4 1089.5,993.9 1088.9,993.4 C1088.4,992.9 1087.9,992.4 1087.5,991.9 C1087.1,991.4 1086.7,990.9 1086.4,990.3 C1086.2,989.8 1086,989.2 1085.8,988.7 C1085.7,988.1 1085.7,986.3 1085.6,987 C1085.5,987.7 1085.5,991.4 1085.5,992.6 C1085.5,993.8 1085.6,993.8 1085.7,994.3 C1085.9,994.9 1086.1,995.5 1086.4,996 C1086.6,996.6 1087,997.1 1087.4,997.7 C1087.8,998.2 1088.3,998.7 1088.8,999.2 C1089.4,999.7 1090,1000.2 1090.7,1000.6 C1091.3,1001.1 1092.1,1001.5 1092.8,1001.9 C1093.6,1002.3 1094.4,1002.7 1095.3,1003.1 C1096.1,1003.4 1097.1,1003.7 1098,1004 C1098.9,1004.3 1099.9,1004.6 1100.9,1004.8 C1101.9,1005 1103,1005.2 1104,1005.4 C1105.1,1005.5 1106.2,1005.6 1107.2,1005.7 C1108.3,1005.8 1109.4,1005.8 1110.5,1005.8 C1111.6,1005.8 1112.7,1005.8 1113.8,1005.7 C1114.8,1005.6 1115.9,1005.5 1117,1005.4 C1118,1005.2 1119.1,1005 1120.1,1004.8 C1121.1,1004.6 1122.1,1004.3 1123,1004 C1123.9,1003.7 1124.9,1003.4 1125.7,1003.1 C1126.6,1002.7 1127.4,1002.3 1128.2,1001.9 C1128.9,1001.5 1129.7,1001.1 1130.3,1000.6 C1131,1000.2 1131.6,999.7 1132.2,999.2 C1132.7,998.7 1133.2,998.2 1133.6,997.7 C1134,997.1 1134.4,996.6 1134.6,996 C1134.9,995.5 1135.1,994.9 1135.3,994.3 C1135.4,993.8 1135.5,992.9 1135.5,992.6" fill="#000" stroke="none"/>
<ellipse cx="1110.5" cy="986.5" rx="24.6" ry="12.4" stroke-width="3.6" fill="#fcfefc"/>
<rect x="1101.5" y="946" width="18" height="41" fill="#fcfefc" stroke="none"/>
<path d="M1101.5,949.4 A9 5.1 0 0 1 1119.5 949.4" stroke-width="3.6"/>
<ellipse cx="1110.5" cy="950.4" rx="6.6" ry="3.6" stroke-width="3.1"/>
<path d="M1101.5,949.4 L1101.5,986.8" stroke-width="3.6"/>
<path d="M1119.5,949.4 L1119.5,986.8" stroke-width="3.6"/>
<path d="M1119.5,958.9 C1119.5,959 1119.4,959.4 1119.3,959.7 C1119.1,960 1118.9,960.2 1118.6,960.5 C1118.3,960.7 1118,960.9 1117.5,961.1 C1117.1,961.4 1116.6,961.5 1116.1,961.7 C1115.6,961.9 1115,962 1114.4,962.1 C1113.8,962.3 1113.2,962.4 1112.5,962.4 C1111.9,962.5 1111.2,962.5 1110.5,962.5 C1109.8,962.5 1109.1,962.5 1108.5,962.4 C1107.8,962.4 1107.2,962.3 1106.6,962.1 C1106,962 1105.4,961.9 1104.9,961.7 C1104.4,961.5 1103.9,961.4 1103.5,961.1 C1103,960.9 1102.7,960.7 1102.4,960.5 C1102.1,960.2 1101.9,960 1101.7,959.7 C1101.6,959.4 1101.5,959 1101.5,958.9" stroke-width="3.1"/>
<path d="M1119.5,967.9 C1119.5,968 1119.4,968.4 1119.3,968.7 C1119.1,969 1118.9,969.2 1118.6,969.5 C1118.3,969.7 1118,969.9 1117.5,970.1 C1117.1,970.4 1116.6,970.5 1116.1,970.7 C1115.6,970.9 1115,971 1114.4,971.1 C1113.8,971.3 1113.2,971.4 1112.5,971.4 C1111.9,971.5 1111.2,971.5 1110.5,971.5 C1109.8,971.5 1109.1,971.5 1108.5,971.4 C1107.8,971.4 1107.2,971.3 1106.6,971.1 C1106,971 1105.4,970.9 1104.9,970.7 C1104.4,970.5 1103.9,970.4 1103.5,970.1 C1103,969.9 1102.7,969.7 1102.4,969.5 C1102.1,969.2 1101.9,969 1101.7,968.7 C1101.6,968.4 1101.5,968 1101.5,967.9" stroke-width="3.1"/>
<path d="M1119.5,986.8 C1119.5,986.9 1119.4,987.4 1119.3,987.7 C1119.2,988 1119,988.3 1118.8,988.5 C1118.6,988.8 1118.3,989.1 1118,989.3 C1117.7,989.5 1117.3,989.8 1116.9,990 C1116.5,990.2 1116,990.4 1115.5,990.5 C1115,990.7 1114.5,990.8 1113.9,991 C1113.4,991.1 1112.8,991.2 1112.3,991.2 C1111.7,991.3 1111.1,991.3 1110.5,991.3 C1109.9,991.3 1109.3,991.3 1108.7,991.2 C1108.2,991.2 1107.6,991.1 1107.1,991 C1106.5,990.8 1106,990.7 1105.5,990.5 C1105,990.4 1104.5,990.2 1104.1,990 C1103.7,989.8 1103.3,989.5 1103,989.3 C1102.7,989.1 1102.4,988.8 1102.2,988.5 C1102,988.3 1101.8,988 1101.7,987.7 C1101.6,987.4 1101.5,986.9 1101.5,986.8" stroke-width="3.6"/>
<path d="M1107,981.5 L1117,980.5" stroke-width="2.9"/>
<path d="M1088,1030 C1091.4,1027.2 1100,1027.2 1107,1027.5 C1114,1027.8 1125.6,1029.4 1130,1031.5 C1134.4,1033.6 1132.6,1035.6 1133.5,1040 C1134.4,1044.4 1135.2,1053 1135.5,1058 C1135.8,1063 1136.8,1066.7 1135,1070 C1133.2,1073.3 1129.2,1076.2 1125,1078 C1120.8,1079.8 1115,1080.8 1110,1081 C1105,1081.2 1099.3,1080.8 1095,1079 C1090.7,1077.2 1086.1,1073.8 1084,1070 C1081.9,1066.2 1082.1,1060.3 1082.5,1056 C1082.9,1051.7 1085.6,1048.3 1086.5,1044 C1087.4,1039.7 1084.6,1032.8 1088,1030Z" fill="#000" stroke="#000" stroke-width="2"/>
<ellipse cx="1110.6" cy="1059.8" rx="17.6" ry="8.9" stroke-width="0" fill="#fcfefc" stroke="none"/>
<ellipse cx="1110.2" cy="1041.2" rx="18.2" ry="11.6" stroke-width="0" fill="#000" stroke="none"/>
<ellipse cx="1110.2" cy="1040.6" rx="16.4" ry="9.6" stroke-width="0" fill="#fcfefc" stroke="none"/>
<g transform="translate(0 0)">
<path d="M1034.6,1233 L1042.9,1224.4 L1064.9,1224.9 L1072.7,1233 L1072.7,1243.3 L1063.1,1253.8 L1046.1,1254.3 L1035.5,1245.6Z" stroke-width="4.4"/>
<path d="M1034.6,1233 L1045.5,1241.5 L1062.5,1241.5 L1072.7,1233" stroke-width="4.2"/>
<path d="M1045.5,1241.5 L1046.1,1254" stroke-width="3.9"/>
<path d="M1062.5,1241.5 L1063.1,1253.8" stroke-width="3.9"/>
<path d="M1036.5,1240 L1045.5,1241.5" stroke-width="1.4"/>
<path d="M1045.1,1205.9 A8.6 4.7 0 0 1 1062.3 1205.9" stroke-width="3.9"/>
<ellipse cx="1053.7" cy="1206.9" rx="6.2" ry="3.2" stroke-width="3.3"/>
<path d="M1045.1,1205.9 L1045.1,1233.5" stroke-width="3.9"/>
<path d="M1062.3,1205.9 L1062.3,1233.5" stroke-width="3.9"/>
<path d="M1062.3,1210.6 C1062.3,1210.7 1062.2,1211.1 1062.1,1211.4 C1061.9,1211.7 1061.7,1211.9 1061.4,1212.2 C1061.2,1212.4 1060.8,1212.6 1060.4,1212.8 C1060,1213.1 1059.6,1213.2 1059.1,1213.4 C1058.6,1213.6 1058,1213.7 1057.4,1213.8 C1056.9,1214 1056.2,1214.1 1055.6,1214.1 C1055,1214.2 1054.3,1214.2 1053.7,1214.2 C1053.1,1214.2 1052.4,1214.2 1051.8,1214.1 C1051.2,1214.1 1050.5,1214 1050,1213.8 C1049.4,1213.7 1048.8,1213.6 1048.3,1213.4 C1047.8,1213.2 1047.4,1213.1 1047,1212.8 C1046.6,1212.6 1046.2,1212.4 1046,1212.2 C1045.7,1211.9 1045.5,1211.7 1045.3,1211.4 C1045.2,1211.1 1045.1,1210.7 1045.1,1210.6" stroke-width="3.3"/>
<path d="M1062.3,1219.9 C1062.3,1220 1062.2,1220.4 1062.1,1220.7 C1061.9,1221 1061.7,1221.2 1061.4,1221.5 C1061.2,1221.7 1060.8,1221.9 1060.4,1222.1 C1060,1222.4 1059.6,1222.5 1059.1,1222.7 C1058.6,1222.9 1058,1223 1057.4,1223.1 C1056.9,1223.3 1056.2,1223.4 1055.6,1223.4 C1055,1223.5 1054.3,1223.5 1053.7,1223.5 C1053.1,1223.5 1052.4,1223.5 1051.8,1223.4 C1051.2,1223.4 1050.5,1223.3 1050,1223.1 C1049.4,1223 1048.8,1222.9 1048.3,1222.7 C1047.8,1222.5 1047.4,1222.4 1047,1222.1 C1046.6,1221.9 1046.2,1221.7 1046,1221.5 C1045.7,1221.2 1045.5,1221 1045.3,1220.7 C1045.2,1220.4 1045.1,1220 1045.1,1219.9" stroke-width="3.3"/>
<path d="M1062.3,1233.5 C1062.3,1233.6 1062.2,1234.1 1062.1,1234.4 C1062,1234.7 1061.9,1235 1061.6,1235.2 C1061.4,1235.5 1061.2,1235.8 1060.9,1236 C1060.5,1236.2 1060.2,1236.5 1059.8,1236.7 C1059.4,1236.9 1058.9,1237.1 1058.5,1237.2 C1058,1237.4 1057.5,1237.5 1057,1237.7 C1056.5,1237.8 1055.9,1237.9 1055.4,1237.9 C1054.8,1238 1054.3,1238 1053.7,1238 C1053.1,1238 1052.6,1238 1052,1237.9 C1051.5,1237.9 1050.9,1237.8 1050.4,1237.7 C1049.9,1237.5 1049.4,1237.4 1048.9,1237.2 C1048.5,1237.1 1048,1236.9 1047.6,1236.7 C1047.2,1236.5 1046.9,1236.2 1046.5,1236 C1046.2,1235.8 1046,1235.5 1045.8,1235.2 C1045.5,1235 1045.4,1234.7 1045.3,1234.4 C1045.2,1234.1 1045.1,1233.6 1045.1,1233.5" stroke-width="3.9"/>
<path d="M1051,1226.8 L1059,1226" stroke-width="3.4"/>
</g>
<g transform="translate(79.2 37)">
<path d="M1034.6,1233 L1042.9,1224.4 L1064.9,1224.9 L1072.7,1233 L1072.7,1243.3 L1063.1,1253.8 L1046.1,1254.3 L1035.5,1245.6Z" stroke-width="4.4"/>
<path d="M1034.6,1233 L1045.5,1241.5 L1062.5,1241.5 L1072.7,1233" stroke-width="4.2"/>
<path d="M1045.5,1241.5 L1046.1,1254" stroke-width="3.9"/>
<path d="M1062.5,1241.5 L1063.1,1253.8" stroke-width="3.9"/>
<path d="M1036.5,1240 L1045.5,1241.5" stroke-width="1.4"/>
<path d="M1045.1,1205.9 A8.6 4.7 0 0 1 1062.3 1205.9" stroke-width="3.9"/>
<ellipse cx="1053.7" cy="1206.9" rx="6.2" ry="3.2" stroke-width="3.3"/>
<path d="M1045.1,1205.9 L1045.1,1233.5" stroke-width="3.9"/>
<path d="M1062.3,1205.9 L1062.3,1233.5" stroke-width="3.9"/>
<path d="M1062.3,1210.6 C1062.3,1210.7 1062.2,1211.1 1062.1,1211.4 C1061.9,1211.7 1061.7,1211.9 1061.4,1212.2 C1061.2,1212.4 1060.8,1212.6 1060.4,1212.8 C1060,1213.1 1059.6,1213.2 1059.1,1213.4 C1058.6,1213.6 1058,1213.7 1057.4,1213.8 C1056.9,1214 1056.2,1214.1 1055.6,1214.1 C1055,1214.2 1054.3,1214.2 1053.7,1214.2 C1053.1,1214.2 1052.4,1214.2 1051.8,1214.1 C1051.2,1214.1 1050.5,1214 1050,1213.8 C1049.4,1213.7 1048.8,1213.6 1048.3,1213.4 C1047.8,1213.2 1047.4,1213.1 1047,1212.8 C1046.6,1212.6 1046.2,1212.4 1046,1212.2 C1045.7,1211.9 1045.5,1211.7 1045.3,1211.4 C1045.2,1211.1 1045.1,1210.7 1045.1,1210.6" stroke-width="3.3"/>
<path d="M1062.3,1219.9 C1062.3,1220 1062.2,1220.4 1062.1,1220.7 C1061.9,1221 1061.7,1221.2 1061.4,1221.5 C1061.2,1221.7 1060.8,1221.9 1060.4,1222.1 C1060,1222.4 1059.6,1222.5 1059.1,1222.7 C1058.6,1222.9 1058,1223 1057.4,1223.1 C1056.9,1223.3 1056.2,1223.4 1055.6,1223.4 C1055,1223.5 1054.3,1223.5 1053.7,1223.5 C1053.1,1223.5 1052.4,1223.5 1051.8,1223.4 C1051.2,1223.4 1050.5,1223.3 1050,1223.1 C1049.4,1223 1048.8,1222.9 1048.3,1222.7 C1047.8,1222.5 1047.4,1222.4 1047,1222.1 C1046.6,1221.9 1046.2,1221.7 1046,1221.5 C1045.7,1221.2 1045.5,1221 1045.3,1220.7 C1045.2,1220.4 1045.1,1220 1045.1,1219.9" stroke-width="3.3"/>
<path d="M1062.3,1233.5 C1062.3,1233.6 1062.2,1234.1 1062.1,1234.4 C1062,1234.7 1061.9,1235 1061.6,1235.2 C1061.4,1235.5 1061.2,1235.8 1060.9,1236 C1060.5,1236.2 1060.2,1236.5 1059.8,1236.7 C1059.4,1236.9 1058.9,1237.1 1058.5,1237.2 C1058,1237.4 1057.5,1237.5 1057,1237.7 C1056.5,1237.8 1055.9,1237.9 1055.4,1237.9 C1054.8,1238 1054.3,1238 1053.7,1238 C1053.1,1238 1052.6,1238 1052,1237.9 C1051.5,1237.9 1050.9,1237.8 1050.4,1237.7 C1049.9,1237.5 1049.4,1237.4 1048.9,1237.2 C1048.5,1237.1 1048,1236.9 1047.6,1236.7 C1047.2,1236.5 1046.9,1236.2 1046.5,1236 C1046.2,1235.8 1046,1235.5 1045.8,1235.2 C1045.5,1235 1045.4,1234.7 1045.3,1234.4 C1045.2,1234.1 1045.1,1233.6 1045.1,1233.5" stroke-width="3.9"/>
<path d="M1051,1226.8 L1059,1226" stroke-width="3.4"/>
</g>
</g>
<g style="filter:grayscale(1)">
<text class="lb" x="1320.2" y="125.9">41</text>
<text class="lb" x="732.1" y="302.1">42</text>
<text class="lb" x="1411.1" y="591.2">40</text>
<text class="lb" x="912" y="632.9">49</text>
<text class="lb" x="280.9" y="707.9">44</text>
<text class="lb" x="770.7" y="746.3">43</text>
<text class="lb" x="848.7" y="855.7">44</text>
<text class="lb" x="1285.3" y="869.7">45</text>
<text class="lb" x="1201.4" y="1014.1">46</text>
<text class="lb" x="1193.6" y="1092.9">50</text>
<text class="lb" x="1247.6" y="1151.2">47</text>
<text class="lb" x="648.2" y="1122.1">44</text>
<text class="lb" x="923.1" y="1289.7">48</text>
</g>
<g style="filter:saturate(1)"><text transform="translate(1640.5 1400) scale(1.17 1)" x="0" y="0" style="font-family:'Liberation Serif',serif;font-size:34.5px;"><tspan fill="#4a6db8">m</tspan><tspan fill="#44aa3c">o</tspan><tspan fill="#e2609e">t</tspan><tspan fill="#1c9b3f">o</tspan><tspan fill="#e85a1e">r</tspan><tspan fill="#f2a11c">u</tspan><tspan fill="#f3cc1e">f</tspan></text><text x="1769" y="1400" style="font-family:'Liberation Serif',serif;font-size:17px;" fill="#333">.de</text><circle cx="1774" cy="1375.5" r="0.9" fill="#888"/></g>
</svg>
</body></html>
